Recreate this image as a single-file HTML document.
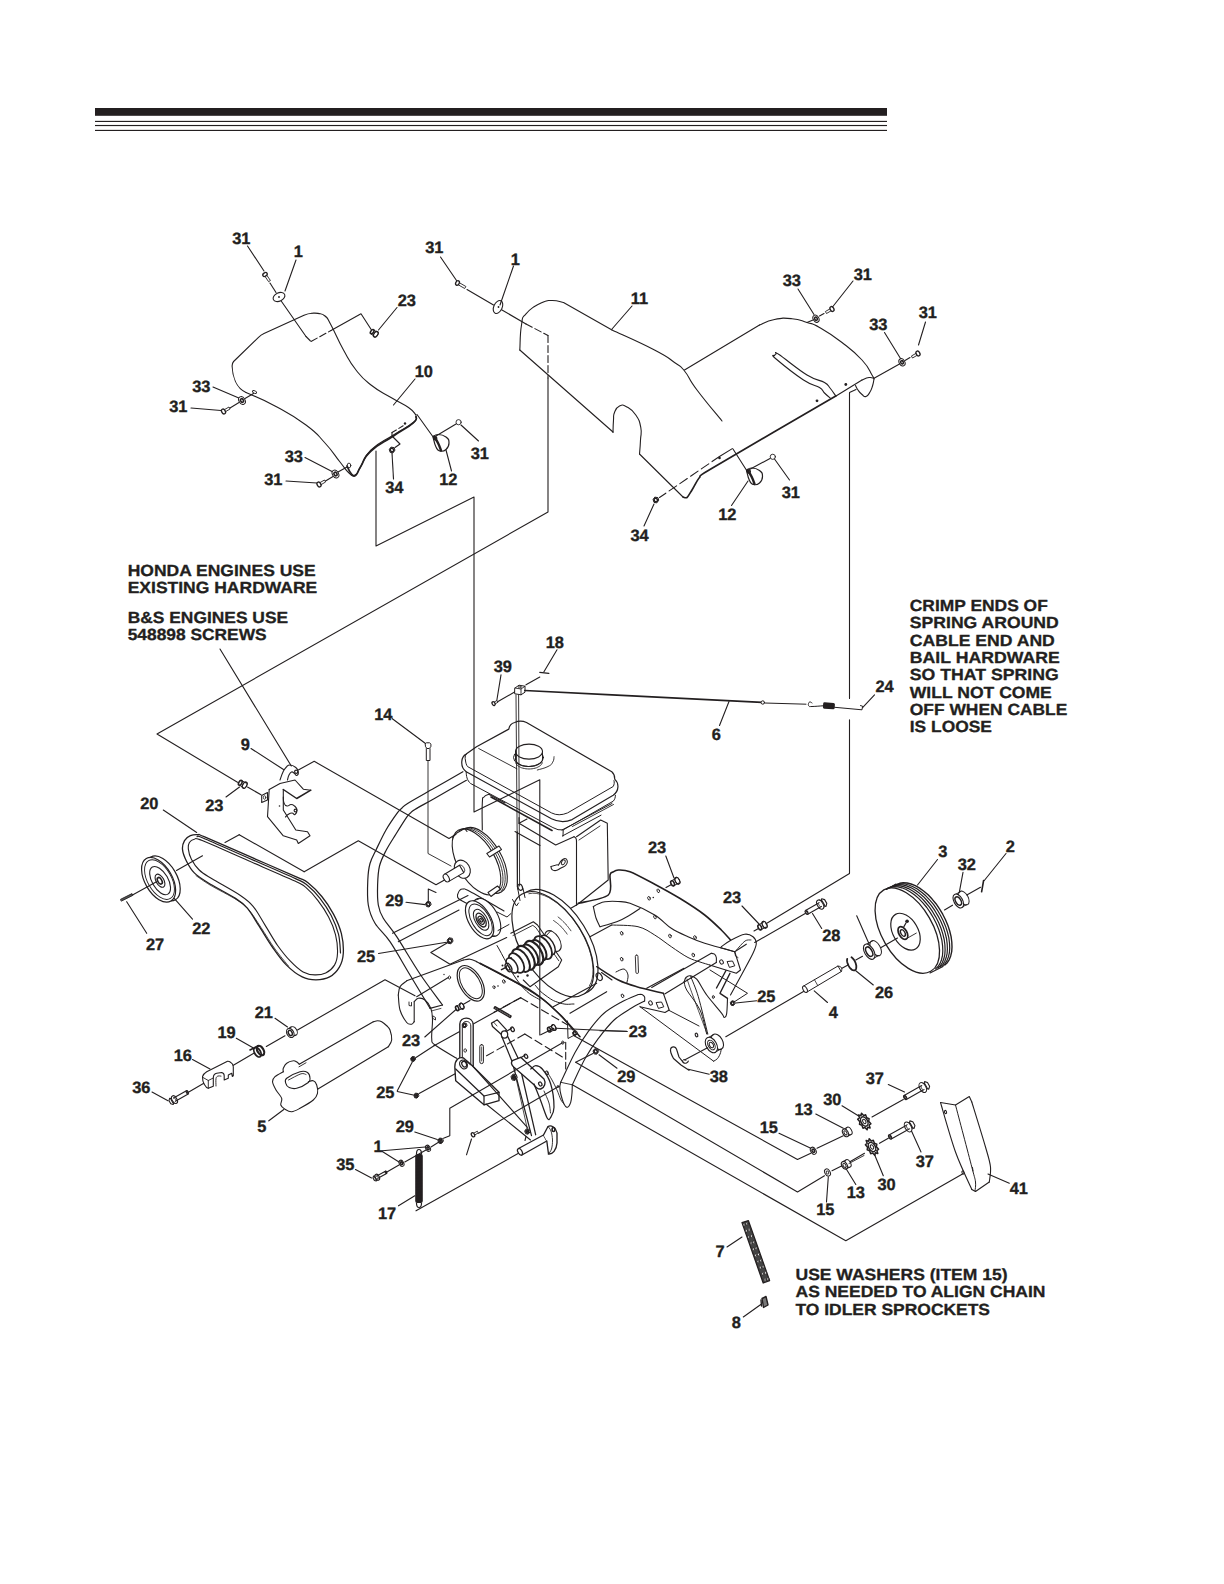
<!DOCTYPE html>
<html><head><meta charset="utf-8"><title>Parts diagram</title>
<style>html,body{margin:0;padding:0;background:#fff}svg{display:block}text{-webkit-font-smoothing:antialiased;text-rendering:geometricPrecision}</style></head>
<body><svg width="1224" height="1584" viewBox="0 0 1224 1584" style="font-family:'Liberation Sans',sans-serif;font-weight:bold" fill="none" stroke="#231f20" stroke-linecap="round" stroke-linejoin="round">
<rect x="0" y="0" width="1224" height="1584" fill="#fff" stroke="none"/>
<path d="M462.9 771.7 C458.1 774.5 443.1 783 434 788.3 C424.9 793.5 413.3 799.9 408 803.2 C402.7 806.5 403.7 806.5 402 808 C400.3 809.5 400.4 808.7 397.7 812.4 C395 816.1 389.6 823.7 386 830 C382.4 836.3 378.7 844.4 376 850 C373.3 855.6 371.4 858.5 370 863.5 C368.6 868.5 368.1 873.1 367.8 880 C367.5 886.9 367.1 897.8 368.3 905 C369.5 912.2 371.4 917.2 375 923.3 C378.6 929.4 384.2 933.1 390 941.7 C395.8 950.3 403.3 963.9 410 975 C416.7 986.1 426.7 1002.8 430 1008.3" stroke-width="1.2" fill="none"/>
<path d="M466.4 780.3 C461 783.4 442.6 793.8 434 798.7 C425.4 803.6 418.8 807.1 414.9 809.5 C411 811.9 411.8 811.8 410.5 813 C409.2 814.2 409.3 813.4 406.9 816.9 C404.5 820.4 399.4 828.5 396 834 C392.6 839.5 389.1 844.7 386.3 850 C383.6 855.3 380.9 860.2 379.5 866 C378.1 871.8 377.8 878.5 377.6 885 C377.4 891.5 377.4 899.5 378.3 905 C379.2 910.5 380.2 913 383.3 918.3 C386.4 923.6 390.6 927.4 396.7 936.7 C402.8 946 412.4 962.6 420 974 C427.6 985.4 438.8 999.8 442.5 1005" stroke-width="1.2" fill="none"/>
<path d="M430 1008.3 L442.5 1005" stroke-width="1.2"/>
<path d="M432 1010.8 L441 1008.4" stroke-width="0.8"/>
<path d="M466.2 754.1 L476.5 746.8 L508.8 729.1 C509.3 725.5 512 723.2 514.7 722.5 C518.5 720.8 522.5 720.8 526.5 722.5 L611.8 771.8 C613.8 773.5 614.8 776.2 614.7 779.1 C619 783 619.5 790.5 613.2 795.3 L572.1 819.6 Q561.8 824 551.5 818.8 L466.2 771.8 C462.5 769 461.5 765 461.8 761.5 C462 757.5 463.5 755.5 466.2 754.1 Z" stroke-width="1.2" fill="#fff"/>
<path d="M466.2 754.1 C465 756 464.9 758 465.4 760 C465.8 763 466.3 765 467.6 766.6 L551.5 812.9 Q558.8 816.6 567.6 812.9 L613.2 786.5 C614.3 784.5 614.5 782.5 614 780.6" stroke-width="1.0"/>
<path d="M466.2 771.8 C466.2 776 467 780.5 470.6 783.5 L552.9 827.6 Q558 830.6 563.2 829.9 L613.2 801.2 C614.8 799.5 615.4 797.5 615.4 795.3" stroke-width="1.0"/>
<path d="M563.2 829.9 L563 836" stroke-width="1.0"/>
<path d="M478.7 748.5 L516.9 768.8" stroke-width="0.9"/>
<path d="M562 830 L612 803.5" stroke-width="1.0"/>
<path d="M562.4 836 L601 815.2" stroke-width="1.0"/>
<path d="M572.3 826.5 L613.5 804.5" stroke-width="0.9"/>
<path d="M491 797 L552 830.5" stroke-width="1.6"/>
<ellipse cx="528.5" cy="757.5" rx="15" ry="9" transform="rotate(0 528.5 757.5)" stroke-width="1.0" fill="#fff"/>
<path d="M515.5 751.5 L515.5 759" stroke-width="1.0" fill="none"/>
<path d="M542.5 751.5 L542.5 759" stroke-width="1.0" fill="none"/>
<path d="M542.5 759 L542.4 760 L542 760.9 L541.5 761.9 L540.7 762.8 L539.7 763.6 L538.5 764.3 L537.2 765 L535.8 765.5 L534.2 765.9 L532.5 766.2 L530.8 766.4 L529 766.5 L527.2 766.4 L525.5 766.2 L523.8 765.9 L522.2 765.5 L520.8 765 L519.5 764.3 L518.3 763.6 L517.3 762.8 L516.5 761.9 L516 760.9 L515.6 760 L515.5 759" stroke-width="1.1" fill="none"/>
<path d="M542.3 762.8 L541.9 763.7 L541.4 764.5 L540.7 765.2 L539.8 766 L538.8 766.6 L537.7 767.2 L536.4 767.8 L535.1 768.2 L533.6 768.5 L532.1 768.8 L530.6 768.9 L529 769 L527.4 768.9 L525.9 768.8 L524.4 768.5 L522.9 768.2 L521.6 767.8 L520.3 767.2 L519.2 766.6 L518.2 766 L517.3 765.2 L516.6 764.5 L516.1 763.7 L515.7 762.8" stroke-width="0.9" fill="none"/>
<ellipse cx="529" cy="751.6" rx="13.5" ry="7.5" transform="rotate(0 529 751.6)" stroke-width="1.1" fill="#fff"/>
<path d="M554 756.7 C553.7 758.1 554.4 759.4 552.8 762 C551.2 764.6 552.1 764.4 548 766.5 C543.9 768.6 540.2 769.1 537.3 770" stroke-width="0.9" fill="none"/>
<path d="M482.3 830 C482.3 822.9 481.8 812.1 482.3 803.3 C482.8 794.5 482.3 799.4 484 797 C485.7 794.6 487.5 795 488.8 794.3" stroke-width="1.1" fill="none"/>
<path d="M488.8 794.3 L505 803" stroke-width="1.1"/>
<path d="M519 817.5 L519 823.3 L555.7 845 L574 836.7" stroke-width="1.1" fill="none"/>
<path d="M519 823.3 L527 819" stroke-width="1.1"/>
<path d="M517.3 831.7 L517.3 886.7" stroke-width="1.1" fill="none"/>
<path d="M515 831.5 L540 845.5" stroke-width="1.1"/>
<path d="M574 836.7 C574.5 837.2 575.3 837.2 576 838.5 C576.7 839.8 576.4 840.8 576.5 841.7" stroke-width="1.1" fill="none"/>
<path d="M576.5 841.7 L576.5 905" stroke-width="1.1"/>
<path d="M576.5 836.7 L600.7 820 L607.3 823.3 L608.2 880 L579 903.3 L576.5 905" stroke-width="1.1" fill="none"/>
<path d="M579 840 L600 826" stroke-width="0.9"/>
<path d="M576.5 905 L566 911" stroke-width="1.1"/>
<path d="M551 866.5 C551.3 867.3 550.7 868.4 552 869.5 C553.3 870.6 553.6 870.9 556 870.5 C558.4 870.1 558.3 869.5 561 868 C563.7 866.5 564.3 866.9 566 865 C567.7 863.1 567.6 862.7 567.3 861 C567 859.3 566.5 858.6 565 858.5 C563.5 858.4 563.2 858.8 561.5 860.5 C559.8 862.2 559.3 863.8 558.5 865" stroke-width="1.1" fill="none"/>
<path d="M551 866.5 L557 864.8 L558.5 865" stroke-width="1.0" fill="none"/>
<ellipse cx="563.3" cy="862.3" rx="1.6" ry="2.6" transform="rotate(30 563.3 862.3)" stroke-width="0.9" fill="none"/>
<ellipse cx="483" cy="860.4" rx="18.6" ry="36.5" transform="rotate(-30 483 860.4)" stroke-width="1.1" fill="#fff"/>
<ellipse cx="476.5" cy="861.9" rx="18.6" ry="36.5" transform="rotate(-30 476.5 861.9)" stroke-width="1.1" fill="#fff"/>
<path d="M459.1 830.7 L461.1 829.4 L463.4 828.7 L465.9 828.5 L468.6 828.8 L471.5 829.6 L474.5 830.9 L477.6 832.8 L480.7 835.1 L483.8 837.8 L486.8 840.9 L489.6 844.3 L492.3 848.1 L494.7 852 L496.9 856.1 L498.8 860.2 L500.4 864.4 L501.6 868.6 L502.5 872.6 L502.9 876.4 L503 880 L502.7 883.3 L502 886.3 L500.9 888.8 L499.5 890.9" stroke-width="0.9" fill="none"/>
<path d="M461.3 830.2 L463.3 828.9 L465.6 828.2 L468.1 828 L470.8 828.3 L473.7 829.1 L476.7 830.4 L479.8 832.3 L482.9 834.6 L486 837.3 L489 840.4 L491.8 843.8 L494.5 847.6 L496.9 851.5 L499.1 855.6 L501 859.7 L502.6 863.9 L503.8 868.1 L504.7 872.1 L505.1 875.9 L505.2 879.5 L504.9 882.8 L504.2 885.8 L503.1 888.3 L501.7 890.4" stroke-width="0.9" fill="none"/>
<path d="M452.5 838 L456 833.5 L464.5 828.5 L467 831.5" stroke-width="1.1" fill="none"/>
<path d="M486.8 853.5 L499 846 L501.5 849.5 L489.5 857 Z" stroke-width="1.1" fill="#fff"/>
<path d="M488 892.5 L497.5 886 L500.5 889 L491 896.5 Z" stroke-width="1.1" fill="#fff"/>
<ellipse cx="462.3" cy="869.2" rx="7.5" ry="9.5" transform="rotate(-30 462.3 869.2)" stroke-width="1.1" fill="#fff"/>
<path d="M444.5 874.2 L459.5 865.2 L463.8 872.6 L448.5 881.6" stroke-width="1.1" fill="#fff"/>
<ellipse cx="446.3" cy="878" rx="2.6" ry="4.2" transform="rotate(-30 446.3 878)" stroke-width="1.1" fill="#fff"/>
<path d="M459.5 865.4 L459.8 865.2 L460.2 865.2 L460.5 865.1 L460.9 865.2 L461.3 865.3 L461.7 865.5 L462.1 865.8 L462.5 866.1 L462.9 866.4 L463.2 866.8 L463.6 867.2 L463.9 867.7 L464.1 868.2 L464.3 868.7 L464.5 869.2 L464.6 869.7 L464.7 870.2 L464.7 870.7 L464.6 871.1 L464.5 871.5 L464.4 871.9 L464.2 872.2 L464 872.4 L463.7 872.6" stroke-width="1.0" fill="none"/>
<path d="M304.2 871.7 L358.3 840.8 L436 884.8 L444.5 880" stroke-width="1.1" fill="none"/>
<path d="M225 842.5 L239.2 834.7" stroke-width="1.1"/>
<path d="M239.2 834.7 L304.2 871.7" stroke-width="1.1"/>
<path d="M457.5 895 C457.9 894.1 458.4 891.7 459.5 890.5 C460.6 889.3 460.9 888.8 463 889 C465.1 889.2 461.8 887.1 470 891.5 C478.2 895.9 497.2 907.1 504 911" stroke-width="1.1" fill="none"/>
<path d="M457.5 895 C457.8 895.8 456.5 897 459 899 C461.5 901 462.8 901.1 470 905 C477.2 908.9 490 915.8 495 918.5" stroke-width="1.1" fill="none"/>
<path d="M392.5 933.3 L468 895.5" stroke-width="1.1"/>
<path d="M398.3 941.7 L459 910" stroke-width="1.1"/>
<ellipse cx="486.6" cy="917.3" rx="11" ry="21" transform="rotate(-30 486.6 917.3)" stroke-width="1.1" fill="#fff"/>
<path d="M472.1 901.3 L479.1 898.8" stroke-width="1.0" fill="none"/>
<path d="M487.1 938.3 L494.1 935.8" stroke-width="1.0" fill="none"/>
<ellipse cx="479.6" cy="919.8" rx="11" ry="21" transform="rotate(-30 479.6 919.8)" stroke-width="1.2" fill="#fff"/>
<ellipse cx="480.6" cy="919.8" rx="9" ry="17.5" transform="rotate(-30 480.6 919.8)" stroke-width="1.0" fill="none"/>
<ellipse cx="481.1" cy="919.8" rx="6" ry="11.5" transform="rotate(-30 481.1 919.8)" stroke-width="1.0" fill="none"/>
<ellipse cx="481.1" cy="920.1" rx="4" ry="7.6" transform="rotate(-30 481.1 920.1)" stroke-width="1.3" fill="none"/>
<ellipse cx="481.1" cy="920.3" rx="2.4" ry="4.4" transform="rotate(-30 481.1 920.3)" stroke-width="1.3" fill="none"/>
<ellipse cx="481.1" cy="920.3" rx="1.1" ry="2" transform="rotate(-30 481.1 920.3)" stroke-width="1.3" fill="none"/>
<path d="M497 912 L507 917 L511 913.5" stroke-width="1.0" fill="none"/>
<path d="M498 930.5 L509 924.5" stroke-width="1.0" fill="none"/>
<ellipse cx="557.1" cy="942" rx="31.2" ry="58.8" transform="rotate(-32 557.1 942)" stroke-width="1.2" fill="#fff"/>
<ellipse cx="552.8" cy="944.2" rx="31.2" ry="58.8" transform="rotate(-32 552.8 944.2)" stroke-width="1.2" fill="#fff"/>
<path d="M528.9 893.7 L532.4 893.2 L536.2 893.4 L540.2 894.2 L544.4 895.6 L548.7 897.6 L553.1 900.3 L557.5 903.4 L561.8 907.1 L566.1 911.2 L570.2 915.8 L574.1 920.7 L577.7 925.9 L581 931.3 L584 936.9 L586.6 942.5 L588.8 948.2 L590.6 953.8 L591.9 959.3 L592.7 964.6 L593 969.6 L592.8 974.3 L592.2 978.6 L591 982.5 L589.4 985.8" stroke-width="0.8" fill="none"/>
<path d="M553.6 920.6 L554.1 921 L554.7 921.3 L555.3 921.8 L555.9 922.2 L556.5 922.6 L557.1 923.1 L557.7 923.6 L558.3 924.1 L558.9 924.6 L559.5 925.1 L560 925.7 L560.6 926.2 L561.2 926.8 L561.8 927.4 L562.3 928 L562.9 928.7 L563.4 929.3 L564 929.9 L564.5 930.6 L565 931.3 L565.6 932 L566.1 932.6 L566.6 933.4 L567.1 934.1" stroke-width="0.9" fill="none"/>
<path d="M558.1 917 L558.7 917.5 L559.3 917.9 L559.9 918.4 L560.4 918.9 L561 919.4 L561.5 919.9 L562.1 920.4 L562.7 921 L563.2 921.5 L563.8 922.1 L564.3 922.6 L564.9 923.2 L565.4 923.8 L565.9 924.4 L566.4 925 L567 925.6 L567.5 926.2 L568 926.9 L568.5 927.5 L569 928.2 L569.5 928.8 L570 929.5 L570.5 930.2 L570.9 930.8" stroke-width="0.9" fill="none"/>
<path d="M517.8 889 L520 900.5" stroke-width="1.0" fill="none"/>
<path d="M523 888.5 L525 897.5" stroke-width="1.0" fill="none"/>
<ellipse cx="520.2" cy="887.3" rx="2.2" ry="3.2" transform="rotate(-20 520.2 887.3)" stroke-width="1.2" fill="none"/>
<path d="M512.5 899.5 L516.5 906 L518.5 903" stroke-width="1.0" fill="none"/>
<path d="M510.8 933.3 L533.3 921.7 L537.5 925 L561.7 960 L558.3 966.7 L530 986.7 L523.3 980" stroke-width="1.1" fill="none"/>
<path d="M513 935.5 L532.8 925.3 L536 927.8 L558.8 960.8" stroke-width="0.9" fill="none"/>
<ellipse cx="553" cy="941" rx="6.5" ry="11.5" transform="rotate(-32 553 941)" stroke-width="1.0" fill="#fff"/>
<path d="M545 937 L551 930.5" stroke-width="1.0" fill="none"/>
<ellipse cx="547.5" cy="945.2" rx="6" ry="11" transform="rotate(-32 547.5 945.2)" stroke-width="1.4" fill="#fff"/>
<ellipse cx="543" cy="947.7" rx="7" ry="12.8" transform="rotate(-32 543 947.7)" stroke-width="1.8" fill="#fff"/>
<ellipse cx="538.5" cy="950.3" rx="6.2" ry="11.4" transform="rotate(-32 538.5 950.3)" stroke-width="2.0" fill="#fff"/>
<ellipse cx="534" cy="952.9" rx="7.2" ry="13.3" transform="rotate(-32 534 952.9)" stroke-width="2.2" fill="#fff"/>
<ellipse cx="530" cy="955.2" rx="6.4" ry="11.8" transform="rotate(-32 530 955.2)" stroke-width="2.0" fill="#fff"/>
<ellipse cx="525.5" cy="957.8" rx="7.2" ry="13.3" transform="rotate(-32 525.5 957.8)" stroke-width="2.2" fill="#fff"/>
<ellipse cx="521" cy="960.4" rx="6.9" ry="12.8" transform="rotate(-32 521 960.4)" stroke-width="2.0" fill="#fff"/>
<ellipse cx="516.5" cy="963" rx="6" ry="11" transform="rotate(-32 516.5 963)" stroke-width="1.8" fill="#fff"/>
<ellipse cx="512" cy="965.5" rx="4.6" ry="8.4" transform="rotate(-32 512 965.5)" stroke-width="1.5" fill="#fff"/>
<ellipse cx="508.5" cy="967.6" rx="2.6" ry="4.6" transform="rotate(-32 508.5 967.6)" stroke-width="1.4" fill="#fff"/>
<ellipse cx="508" cy="967.9" rx="1.4" ry="2.4" transform="rotate(-32 508 967.9)" stroke-width="1.3" fill="none"/>
<path d="M501.5 969.6 L505.5 967.6" stroke-width="1.6" fill="none"/>
<circle cx="502.5" cy="965.5" r="1" fill="#231f20" stroke="none"/>
<circle cx="527.5" cy="975.5" r="1.2" fill="#231f20" stroke="none"/>
<circle cx="518" cy="976.5" r="1" fill="#231f20" stroke="none"/>
<circle cx="511" cy="958" r="1" fill="#231f20" stroke="none"/>
<path d="M480 963.3 C488 967.5 495.3 971 510 979 C524.7 987 523 985 535 993.3 C547 1001.6 546.5 1002.4 555 1010 C563.5 1017.6 560 1014.6 566.7 1021.7 C573.4 1028.8 576.5 1032.7 580 1036.7" stroke-width="1.6" fill="none"/>
<path d="M497 945.5 C502.4 954.5 510 971.3 520 984 C530 996.7 535.3 996.3 540 1000" stroke-width="1.0" fill="none"/>
<path d="M535 985 C537.7 987.7 538.3 990.2 545 995 C551.7 999.8 552.3 1000.6 560 1003 C567.7 1005.4 570.3 1003.7 574 1004" stroke-width="1.0" fill="none"/>
<path d="M578.3 903.3 C582.8 902.1 603.5 899.2 608.3 895 C613.1 890.8 609.3 878.5 610 875 C610.7 871.5 611.8 872.8 613 872 C614.2 871.2 615.8 870 618.3 870 C620.8 870 624.5 869.6 630 871.7 C635.5 873.8 647.2 880.2 654.7 884.2 C662.2 888.2 672.2 893.7 679.7 898.3 C687.2 902.9 698.5 910.2 704.7 915 C710.9 919.8 717.4 926.2 721.3 930 C725.2 933.8 729.1 938.5 730.5 940" stroke-width="1.6" fill="none"/>
<path d="M593.3 906.7 C594.1 906.2 596 904.8 598 904 C600 903.2 601.7 902.1 605 901.7 C608.3 901.3 613.8 901.2 618 901.5 C622.2 901.8 623.9 901 630 903.3 C636.1 905.5 647.8 910.8 654.7 915 C661.6 919.2 665.8 924.7 671.3 928.3 C676.8 931.9 682.4 934.2 688 936.7 C693.6 939.2 699.4 941.5 704.7 943.3 C710 945.1 714.7 946.1 719.7 947.5 C724.7 948.9 732.2 951 734.7 951.7" stroke-width="1.1" fill="none"/>
<path d="M593.3 906.7 C593.8 908.6 594.9 914.7 596 918 C597.1 921.3 599.3 925.2 600 926.7" stroke-width="1.1" fill="none"/>
<path d="M600 926.7 C602.8 925.9 611.7 923.7 616.7 921.7 C621.7 919.8 626.1 917.2 630 915 C633.9 912.8 638.3 909.6 640 908.5" stroke-width="1.1" fill="none"/>
<path d="M590 936.7 L611.7 925" stroke-width="1.1"/>
<path d="M611.7 925 C616.1 925.3 630.8 925 638 926.7 C645.2 928.4 649.2 931.7 654.7 935 C660.2 938.3 665.8 943 671.3 946.7 C676.8 950.5 683.2 955 688 957.5 C692.8 960 696.4 960.8 700 962 C703.6 963.2 708.1 964.5 709.7 965" stroke-width="1.0" fill="none"/>
<ellipse cx="658.3" cy="890.8" rx="1.2" ry="1.9" transform="rotate(-20 658.3 890.8)" stroke-width="0.9" fill="none"/>
<ellipse cx="649" cy="898.3" rx="1.2" ry="1.9" transform="rotate(-20 649 898.3)" stroke-width="0.9" fill="none"/>
<ellipse cx="621.7" cy="933.3" rx="1.2" ry="1.9" transform="rotate(-20 621.7 933.3)" stroke-width="0.9" fill="none"/>
<ellipse cx="670" cy="936" rx="1.2" ry="1.9" transform="rotate(-20 670 936)" stroke-width="0.9" fill="none"/>
<ellipse cx="621.7" cy="959.2" rx="1.2" ry="1.9" transform="rotate(-20 621.7 959.2)" stroke-width="0.9" fill="none"/>
<ellipse cx="622.5" cy="995.8" rx="1.2" ry="1.9" transform="rotate(-20 622.5 995.8)" stroke-width="0.9" fill="none"/>
<ellipse cx="693.3" cy="955" rx="1.2" ry="1.9" transform="rotate(-20 693.3 955)" stroke-width="0.9" fill="none"/>
<ellipse cx="695" cy="937.5" rx="1.2" ry="1.9" transform="rotate(-20 695 937.5)" stroke-width="0.9" fill="none"/>
<ellipse cx="655" cy="917" rx="1.2" ry="1.9" transform="rotate(-20 655 917)" stroke-width="0.9" fill="none"/>
<circle cx="653.3" cy="897.5" r="0.8" fill="#231f20" stroke="none"/>
<rect x="635.6" y="955" width="2.6" height="18.5" rx="1.3" stroke-width="0.9" transform="rotate(-2 637 964)"/>
<path d="M719.7 947.5 L734.7 951.7 L746.3 944.2" stroke-width="1.1" fill="none"/>
<path d="M734.7 951.7 L740.5 970 L736.3 973.3 L709.7 965" stroke-width="1.1" fill="none"/>
<path d="M734.7 951.7 L735.5 956 L738 957.5" stroke-width="0.9" fill="none"/>
<ellipse cx="721.5" cy="962" rx="1.7" ry="2.2" transform="rotate(-30 721.5 962)" stroke-width="1.0" fill="none"/>
<path d="M727.5 961.5 L732.5 961 L734.8 965.8 L729.8 967.3 Z" stroke-width="1.0" fill="none"/>
<path d="M651.7 987.5 L711.3 953.3" stroke-width="1.1" fill="none"/>
<path d="M664.7 994 L716.3 962.5" stroke-width="1.1" fill="none"/>
<path d="M711.3 953.3 C711.8 953.4 713.7 953.5 714.5 954.2 C715.3 954.9 716 956.1 716.3 957.5 C716.6 958.9 716.3 961.7 716.3 962.5" stroke-width="1.1" fill="none"/>
<path d="M721.3 946.7 C723 945.6 727.4 942.1 731.3 940 C735.2 937.9 741.1 934.8 744.7 934.2 C748.3 933.7 751.1 935.2 753 936.7 C754.9 938.2 756.3 940.5 756.3 943.3 C756.3 946.1 755.4 948.2 753 953.3 C750.6 958.4 745.8 967 742 974 C738.2 981 732.4 991.5 730.5 995" stroke-width="1.1" fill="none"/>
<path d="M736.5 950 C737.9 948.5 742.6 942.7 745 941 C747.4 939.3 750 940.2 751 940" stroke-width="0.9" fill="none"/>
<path d="M726 970.5 L716.5 988" stroke-width="1.4" fill="none"/>
<path d="M596.7 966.7 C600.3 968.9 611.6 976.7 618.3 980 C625 983.3 629.2 984.5 636.7 986.7 C644.2 988.9 658.9 992.2 663.3 993.3" stroke-width="1.5" fill="none"/>
<path d="M663.3 993.3 L669.2 1010 L665 1012.5 L640 1006.7" stroke-width="1.1" fill="none"/>
<path d="M684 968.3 L646.7 988.3" stroke-width="1.1"/>
<path d="M626.7 983.3 C626.9 981.9 628.5 977.4 628 975 C627.5 972.6 626 969.5 624 969 C622 968.5 617.3 971.5 616 972" stroke-width="1.0" fill="none"/>
<ellipse cx="650.5" cy="1003" rx="1.7" ry="2.2" transform="rotate(-30 650.5 1003)" stroke-width="1.0" fill="none"/>
<path d="M656.5 1002.5 L661.5 1002 L663.8 1006.8 L658.8 1008.3 Z" stroke-width="1.0" fill="none"/>
<path d="M638.3 994.5 C638.9 994.5 641 994.2 642 994.6 C643 995 644.2 995.9 644.6 997 C645 998.1 644.6 1000.3 644.6 1001" stroke-width="1.1" fill="none"/>
<path d="M553.3 1006.7 L596.7 983.3" stroke-width="1.1"/>
<path d="M570 1013.3 L606.7 991.7" stroke-width="1.1"/>
<ellipse cx="599.2" cy="976.7" rx="2.6" ry="4" transform="rotate(-30 599.2 976.7)" stroke-width="1.2" fill="none"/>
<path d="M601.5 972.5 L612 980" stroke-width="1.1"/>
<path d="M668.3 1010 L699 1026" stroke-width="1.0" fill="none"/>
<path d="M640 1006.7 L713.6 1061.2" stroke-width="1.0" fill="none"/>
<path d="M713.6 1061.2 C714.2 1060.8 716.3 1060 717.5 1058.6 C718.7 1057.1 720 1054.6 720.6 1052.5 C721.2 1050.4 721.3 1047.2 721.4 1046.1" stroke-width="1.0" fill="none"/>
<ellipse cx="696.5" cy="1035" rx="1.2" ry="1.9" transform="rotate(-20 696.5 1035)" stroke-width="1.2" fill="none"/>
<ellipse cx="717.4" cy="1041.8" rx="5.2" ry="8.4" transform="rotate(-30 717.4 1041.8)" stroke-width="1.1" fill="#fff"/>
<path d="M707.8 1037.8 L713.8 1034.6" stroke-width="1.0" fill="none"/>
<path d="M715 1052.2 L721 1049" stroke-width="1.0" fill="none"/>
<ellipse cx="711.4" cy="1045" rx="5.2" ry="8.4" transform="rotate(-30 711.4 1045)" stroke-width="1.1" fill="#fff"/>
<ellipse cx="711.4" cy="1045" rx="3.2" ry="5.2" transform="rotate(-30 711.4 1045)" stroke-width="1.0" fill="none"/>
<ellipse cx="711.4" cy="1045" rx="1.8" ry="3" transform="rotate(-30 711.4 1045)" stroke-width="1.0" fill="none"/>
<path d="M684.2 981.7 C684.5 981 685 978.5 686 977.5 C687 976.5 688.2 975.5 690 975.8 C691.8 976.1 693.9 976 696.7 979.2 C699.5 982.4 702.5 989.3 706.7 995 C710.9 1000.7 718.8 1009.5 721.7 1013.3 C724.6 1017 723.4 1017.5 724.2 1017.5 C725 1017.5 726.2 1016.5 726.7 1013.3 C727.2 1010.1 727.4 1000.8 727.5 998.3" stroke-width="1.1" fill="none"/>
<path d="M727.5 998.3 L720 993.3 L730 973.3" stroke-width="1.4" fill="none"/>
<path d="M684.2 981.7 C684.6 983.1 684.1 985.3 686.7 990 C689.3 994.7 696.7 1002.7 700 1010 C703.3 1017.3 705.6 1030 706.7 1034" stroke-width="1.0" fill="none"/>
<path d="M690.8 976.7 C692 980 695.5 987.2 698.3 996.7 C701.1 1006.2 706.2 1027.8 707.8 1034" stroke-width="1.0" fill="none"/>
<path d="M687 979 C688 981.8 689.6 986.8 693 996 C696.4 1005.2 704.8 1027.7 707.2 1034" stroke-width="0.8" fill="none"/>
<ellipse cx="713.3" cy="997" rx="1" ry="1.5" transform="rotate(0 713.3 997)" stroke-width="0.9" fill="none"/>
<path d="M734.9 1003.7 L733.4 1005.6 L731.1 1005.2 L730.3 1002.7 L731.8 1000.8 L734.1 1001.2 Z" stroke-width="1.0" fill="#fff"/>
<ellipse cx="732.6" cy="1003.2" rx="1.3" ry="1.6" transform="rotate(-30 732.6 1003.2)" stroke-width="1.5" fill="none"/>
<path d="M756.7 1000.8 L735.8 1003" stroke-width="1.1"/>
<path d="M710 970 L747.5 993.3 L733.3 1002.5" stroke-width="1.0" fill="none"/>
<path d="M689 1070.3 L681 1065 L673.5 1058.5 C671.5 1055 670 1051.5 670.6 1049.2 C671.2 1046 675.5 1046 676.6 1049.4 L679 1057 L683 1062.2 C685.5 1064.5 688 1062.5 688.3 1061.2" stroke-width="1.2"/>
<path d="M683 1062.2 C681.5 1059.5 684.5 1058.5 686 1060.5" stroke-width="1.0"/>
<path d="M684.5 1060 L707.5 1047.8" stroke-width="1.1"/>
<path d="M709.2 1074.2 L688.3 1069.2" stroke-width="1.1"/>
<path d="M725.8 1036.7 L803.5 991.5" stroke-width="1.1"/>
<path d="M626.7 1031.3 L600 1030.8" stroke-width="1.1"/>
<path d="M617 1068.2 L599 1054.8" stroke-width="1.1"/>
<path d="M598.4 1052 L596.6 1054.3 L594 1053.8 L593 1051 L594.8 1048.7 L597.4 1049.2 Z" stroke-width="1.0" fill="#fff"/>
<ellipse cx="595.7" cy="1051.5" rx="1.5" ry="1.8" transform="rotate(-30 595.7 1051.5)" stroke-width="1.5" fill="none"/>
<path d="M593 1053.5 L575.7 1062.3" stroke-width="1.1"/>
<ellipse cx="553.8" cy="1027.5" rx="1.9" ry="3.2" transform="rotate(-25 553.8 1027.5)" stroke-width="1.0" fill="#fff"/>
<path d="M550.2 1031.8 L554.8 1029.7" stroke-width="1.0" fill="none"/>
<path d="M548.2 1027.5 L552.8 1025.4" stroke-width="1.0" fill="none"/>
<ellipse cx="549.2" cy="1029.7" rx="1.4" ry="2.4" transform="rotate(-25 549.2 1029.7)" stroke-width="1.6" fill="#fff"/>
<ellipse cx="553.8" cy="1027.5" rx="1.9" ry="3.2" transform="rotate(-25 553.8 1027.5)" stroke-width="1.0" fill="none"/>
<path d="M555.7 1028.2 L627.3 1031.5" stroke-width="1.1"/>
<path d="M577.1 1033.7 L575.6 1035.6 L573.3 1035.2 L572.5 1032.7 L574 1030.8 L576.3 1031.2 Z" stroke-width="1.0" fill="#fff"/>
<ellipse cx="574.8" cy="1033.2" rx="1.3" ry="1.6" transform="rotate(-30 574.8 1033.2)" stroke-width="1.5" fill="none"/>
<path d="M540.7 1034.8 L554 1028.2" stroke-width="1.1" fill="none"/>
<path d="M567.5 1021 L568 1038.5 L575.5 1034.5" stroke-width="1.0" fill="none"/>
<path d="M574 1035.7 L797.5 1159.5 L810.8 1153.3" stroke-width="1.1" fill="none"/>
<path d="M575.7 1062.3 L797.5 1192 L824.5 1175.8" stroke-width="1.1" fill="none"/>
<path d="M572.3 1084.8 L845.8 1240.8 L962.5 1174" stroke-width="1.1" fill="none"/>
<path d="M558.5 1086.5 L478.5 1133.3" stroke-width="1.1"/>
<path d="M560.7 1082.3 C563.1 1077.4 570.4 1061.1 574.9 1052.7 C579.4 1044.3 583.2 1038.3 588 1031.8 C592.8 1025.3 598 1018.5 603.7 1013.5 C609.4 1008.5 616.2 1005 622 1001.8 C627.8 998.6 635.6 995.7 638.3 994.5" stroke-width="1.1" fill="none"/>
<path d="M572.3 1084.8 C574.5 1080.3 581 1065.7 585.4 1058 C589.8 1050.3 593.6 1044.7 598.4 1038.4 C603.2 1032.1 608.6 1025 614.1 1020 C619.6 1015 626 1011.5 631.1 1008.3 C636.2 1005.1 642.4 1002.2 644.6 1001" stroke-width="1.1" fill="none"/>
<path d="M560.7 1082.3 C560.6 1083.1 559.8 1085.2 559.8 1087.3 C559.8 1089.4 560.3 1092.2 561 1095 C561.7 1097.8 563 1102 564 1104 C565 1106 566.2 1107.6 567.3 1107.3 C568.4 1107 569.9 1104.7 570.7 1102.3 C571.5 1099.9 571.7 1095.9 572 1093 C572.3 1090.1 572.2 1086.2 572.3 1084.8" stroke-width="1.1" fill="none"/>
<path d="M560.7 1082.3 L572.3 1084.8" stroke-width="0.9"/>
<path d="M547.3 1072.3 C548.1 1073.6 550.4 1077 552 1080 C553.6 1083 555.5 1086.7 557 1090 C558.5 1093.3 559.8 1097.7 561 1100 C562.2 1102.3 563.5 1103.3 564 1104" stroke-width="0.9" fill="none"/>
<ellipse cx="547" cy="1072.8" rx="1.3" ry="1.9" transform="rotate(-20 547 1072.8)" stroke-width="1.0" fill="none"/>
<ellipse cx="558" cy="1086.5" rx="1" ry="1" transform="rotate(0 558 1086.5)" stroke-width="0.9" fill="none"/>
<path d="M520.7 997.7 L494 1012.3" stroke-width="1.1" stroke-dasharray="8 4"/>
<path d="M520.7 997.7 L567.3 1024.8" stroke-width="1.1" stroke-dasharray="8 4"/>
<path d="M524.8 1034 L484 1057.3" stroke-width="1.1" stroke-dasharray="8 4"/>
<path d="M524.8 1034 L565.7 1059" stroke-width="1.1" stroke-dasharray="8 4"/>
<path d="M565.7 1042.3 L565.7 1069" stroke-width="1.1" stroke-dasharray="7 3"/>
<path d="M434 1045.7 L520.7 997.7" stroke-width="1.1"/>
<path d="M416 1057.5 L434 1045.7" stroke-width="1.1"/>
<path d="M419.1 1093.5 L464.7 1068.5" stroke-width="1.1"/>
<ellipse cx="562.8" cy="1042.6" rx="1.2" ry="1.6" transform="rotate(0 562.8 1042.6)" stroke-width="0.9" fill="none"/>
<path d="M459.8 1066 L459.8 1024 C459.8 1016 473.2 1016 473.2 1025 L473.2 1066" stroke-width="1.35" fill="#fff"/>
<path d="M462.3 1064 L462.3 1025.5 C462.3 1020 470.8 1020 470.8 1026 L470.8 1064" stroke-width="1.0"/>
<path d="M466.8 1025.8 L465.3 1027.7 L463 1027.3 L462.2 1024.8 L463.7 1022.9 L466 1023.3 Z" stroke-width="1.0" fill="#fff"/>
<ellipse cx="464.5" cy="1025.3" rx="1.3" ry="1.6" transform="rotate(-30 464.5 1025.3)" stroke-width="1.5" fill="none"/>
<ellipse cx="465.2" cy="1050.5" rx="1.3" ry="1.7" transform="rotate(0 465.2 1050.5)" stroke-width="0.9" fill="none"/>
<rect x="479.8" y="1044.6" width="3.6" height="19" rx="1.8" stroke-width="1.0"/>
<path d="M481.6 1047 L481.6 1061" stroke-width="0.7"/>
<path d="M494 1008.2 L510.2 1017.6 L511.2 1016 L495 1006.6 Z" stroke-width="1.25" fill="none"/>
<path d="M494.6 1007.4 L510.8 1016.8" stroke-width="0.8"/>
<path d="M454.8 1067 C454.8 1060 459 1056.5 463.5 1058 L472.3 1065.7 L499 1092.3 L499 1100.7 L484 1104.8 L455.7 1080.7 Z" stroke-width="1.35" fill="#fff"/>
<path d="M455.7 1069 L484 1096 L499 1092.3" stroke-width="1.25" fill="none"/>
<path d="M484 1096 L484 1104.8" stroke-width="1.25"/>
<ellipse cx="463.5" cy="1064.5" rx="3.6" ry="4.6" transform="rotate(-30 463.5 1064.5)" stroke-width="1.25" fill="none"/>
<ellipse cx="464.2" cy="1064.2" rx="2.2" ry="3" transform="rotate(-30 464.2 1064.2)" stroke-width="1.25" fill="none"/>
<path d="M466.5 1061 L470.5 1064.5" stroke-width="1.25" fill="none"/>
<path d="M472.3 1065.7 L527.3 1127.3" stroke-width="1.1"/>
<path d="M486 1104 L530.5 1140" stroke-width="1.1"/>
<path d="M491.5 1023.2 L497.3 1019.8 L506.5 1029.8 L502 1035 L492.5 1026.5 L491.5 1023.2" stroke-width="1.25" fill="#fff"/>
<path d="M493.5 1022 L497 1026" stroke-width="0.8"/>
<ellipse cx="504.5" cy="1034.5" rx="3.2" ry="3.6" transform="rotate(0 504.5 1034.5)" stroke-width="1.25" fill="#fff"/>
<path d="M507 1031 L511.5 1028.3" stroke-width="1.25" fill="none"/>
<ellipse cx="512.5" cy="1029.3" rx="1.6" ry="2.4" transform="rotate(-30 512.5 1029.3)" stroke-width="1.25" fill="none"/>
<path d="M502 1037 L512.3 1062 L531.5 1135.7" stroke-width="1.25" fill="none"/>
<path d="M507.5 1036 L518 1058 L535.7 1134.8" stroke-width="1.25" fill="none"/>
<path d="M516 1078 L527.8 1131" stroke-width="0.8" fill="none"/>
<path d="M512.3 1060.7 L520.7 1057.3 L544 1079 C546 1082.5 545 1087.5 540.7 1089 C537 1089.5 535.5 1087 534 1084.8 L514 1067.3 C511.5 1065 511 1062.3 512.3 1060.7 Z" stroke-width="1.35" fill="#fff"/>
<ellipse cx="540.3" cy="1084" rx="1.5" ry="2.1" transform="rotate(-30 540.3 1084)" stroke-width="1.25" fill="none"/>
<path d="M521 1057.5 L525 1055.2" stroke-width="1.25" fill="none"/>
<ellipse cx="526" cy="1056.2" rx="1.5" ry="2.2" transform="rotate(-30 526 1056.2)" stroke-width="1.25" fill="none"/>
<path d="M517 1077.9 L515 1080.5 L512 1079.9 L511 1076.7 L513 1074.1 L516 1074.7 Z" stroke-width="1.0" fill="#fff"/>
<ellipse cx="514" cy="1077.3" rx="1.7" ry="2" transform="rotate(-30 514 1077.3)" stroke-width="1.5" fill="none"/>
<circle cx="514" cy="1077.3" r="1.6" fill="#231f20" stroke="none"/>
<path d="M530.7 1069 C531.5 1068.5 533.8 1065.7 535.7 1065.7 C537.6 1065.7 539.8 1066 542.3 1069 C544.8 1072 548.8 1077.6 550.7 1084 C552.7 1090.4 554 1101.8 554 1107.3 C554 1112.8 551.8 1115.5 550.7 1117.3 C549.6 1119.1 549 1121 547.3 1118.2 C545.6 1115.4 542.9 1106.4 540.7 1100.7 C538.5 1095 535.1 1086.8 534 1084" stroke-width="1.25" fill="none"/>
<path d="M544 1091 C544.8 1093 547.9 1099.3 549 1103 C550.1 1106.7 550.2 1111.3 550.5 1113" stroke-width="0.9" fill="none"/>
<path d="M518.5 1148.5 L543.5 1135 L546.8 1141 L521.5 1155.2" stroke-width="1.25" fill="#fff"/>
<ellipse cx="520" cy="1151.8" rx="2" ry="3.6" transform="rotate(-30 520 1151.8)" stroke-width="1.25" fill="#fff"/>
<path d="M543.5 1135 L548 1126.5 C551 1124.5 556 1127.5 557 1133 L557 1143 C556.5 1150 552.5 1154.5 548.5 1154 L546.8 1141" stroke-width="1.35" fill="#fff"/>
<path d="M548 1126.5 C548.5 1127.2 550.2 1128.8 551 1131 C551.8 1133.2 552.4 1137 552.5 1140 C552.6 1143 552.2 1146.7 551.5 1149 C550.8 1151.3 549 1153.2 548.5 1154" stroke-width="0.9" fill="none"/>
<ellipse cx="553.5" cy="1129.5" rx="1.4" ry="2" transform="rotate(0 553.5 1129.5)" stroke-width="1.6" fill="none"/>
<path d="M529.9 1132 L528.2 1134.2 L525.6 1133.7 L524.7 1131 L526.4 1128.8 L529 1129.3 Z" stroke-width="1.0" fill="#fff"/>
<ellipse cx="527.3" cy="1131.5" rx="1.4" ry="1.7" transform="rotate(-30 527.3 1131.5)" stroke-width="1.5" fill="none"/>
<circle cx="527.3" cy="1131.5" r="1.3" fill="#231f20" stroke="none"/>
<path d="M526 1136.5 L525 1140.5" stroke-width="1.2" fill="none"/>
<path d="M473.5 1135.7 L478.3 1132.9 L477.3 1131.2 L472.5 1133.9" stroke-width="0.9" fill="#fff"/>
<ellipse cx="473" cy="1134.8" rx="1.5" ry="2.2" transform="rotate(-30 473 1134.8)" stroke-width="1.3" fill="#fff"/>
<path d="M471.5 1139 L466.5 1154.8" stroke-width="1.1"/>
<path d="M416 1210.8 L518.5 1153.3" stroke-width="1.1"/>
<path d="M443.5 1138.3 L449.8 1135.8 L449.8 1108.3 L562.5 1042.8" stroke-width="1.1" fill="none"/>
<path d="M398.3 995 C398.6 993.6 398.6 989.1 400 986.7 C401.4 984.3 405.6 981.8 406.7 980.8" stroke-width="1.1" fill="none"/>
<path d="M406.7 980.8 L463.3 960" stroke-width="1.1"/>
<path d="M463.3 960 C464.4 959.9 467.8 958.9 470 959.2 C472.2 959.5 475.6 961.3 476.7 961.7" stroke-width="1.1" fill="none"/>
<path d="M476.7 961.7 C483.9 965.6 508.6 978.5 520 985 C531.4 991.5 538 995.7 545 1001 C552 1006.3 557.3 1012.2 562 1017 C566.7 1021.8 571.2 1027.8 573 1030" stroke-width="1.1" fill="none"/>
<path d="M398.3 995 C398.6 997.5 398.6 1005.4 400 1010 C401.4 1014.6 404.8 1020.1 406.7 1022.5 C408.6 1024.9 410.4 1024.3 411.7 1024.2 C412.9 1024.1 413.8 1022.1 414.2 1021.7" stroke-width="1.1" fill="none"/>
<path d="M414.2 1021.7 L414.2 1001.7" stroke-width="1.1"/>
<path d="M414.2 1001.7 C414.9 1001.1 416.5 998.6 418.3 998.3 C420.1 998 422.9 998.3 425 1000 C427.1 1001.7 429.6 1005 430.8 1008.3 C432.1 1011.6 432.4 1015 432.5 1020 C432.6 1025 431.3 1034.1 431.7 1038.3 C432.1 1042.5 430.8 1041.7 435 1045 C439.2 1048.3 453.1 1056.1 456.7 1058.3" stroke-width="1.1" fill="none"/>
<path d="M409 1002 L409 1005.5 L411.5 1006 L411.5 1002.5" stroke-width="0.9" fill="none"/>
<path d="M433 1016 L435.5 1017.5 L435.5 1020 L433 1018.5 Z" stroke-width="0.9" fill="none"/>
<ellipse cx="470.8" cy="983.3" rx="11" ry="19.5" transform="rotate(-30 470.8 983.3)" stroke-width="1.2" fill="none"/>
<ellipse cx="470.8" cy="983.3" rx="9" ry="17" transform="rotate(-30 470.8 983.3)" stroke-width="1.0" fill="none"/>
<ellipse cx="449.5" cy="977.5" rx="1.1" ry="1.6" transform="rotate(0 449.5 977.5)" stroke-width="0.9" fill="none"/>
<circle cx="444" cy="974.5" r="0.7" fill="#231f20" stroke="none"/>
<ellipse cx="503.8" cy="981.5" rx="1.2" ry="1.8" transform="rotate(-20 503.8 981.5)" stroke-width="0.9" fill="none"/>
<ellipse cx="494" cy="987.2" rx="1" ry="1.5" transform="rotate(-20 494 987.2)" stroke-width="0.9" fill="none"/>
<circle cx="498" cy="986" r="0.8" fill="#231f20" stroke="none"/>
<path d="M416.7 996.7 L448.3 977.5" stroke-width="1.1"/>
<path d="M452.8 941.4 L451 943.8 L448.1 943.3 L447.2 940.2 L449 937.8 L451.9 938.3 Z" stroke-width="1.0" fill="#fff"/>
<ellipse cx="450" cy="940.8" rx="1.6" ry="1.9" transform="rotate(-30 450 940.8)" stroke-width="1.5" fill="none"/>
<path d="M378.5 953.5 L446.5 942.3" stroke-width="1.1"/>
<path d="M449.2 941.7 L430.8 952.5 L450 964.2 L506.7 937.5" stroke-width="1.1" fill="none"/>
<path d="M430.9 904.7 L429.1 907 L426.5 906.5 L425.5 903.7 L427.3 901.4 L429.9 901.9 Z" stroke-width="1.0" fill="#fff"/>
<ellipse cx="428.2" cy="904.2" rx="1.5" ry="1.8" transform="rotate(-30 428.2 904.2)" stroke-width="1.5" fill="none"/>
<path d="M406 902.3 L425 904.6" stroke-width="1.1"/>
<path d="M428.3 901 L428.3 889 L436 892.5" stroke-width="1.1" fill="none"/>
<ellipse cx="461.8" cy="1006.1" rx="1.9" ry="3.2" transform="rotate(-25 461.8 1006.1)" stroke-width="1.0" fill="#fff"/>
<path d="M458.2 1010.4 L462.8 1008.3" stroke-width="1.0" fill="none"/>
<path d="M456.2 1006.1 L460.8 1004" stroke-width="1.0" fill="none"/>
<ellipse cx="457.2" cy="1008.3" rx="1.4" ry="2.4" transform="rotate(-25 457.2 1008.3)" stroke-width="1.6" fill="#fff"/>
<ellipse cx="461.8" cy="1006.1" rx="1.9" ry="3.2" transform="rotate(-25 461.8 1006.1)" stroke-width="1.0" fill="none"/>
<path d="M424.8 1037 L456 1009.5" stroke-width="1.1"/>
<path d="M463 1004.5 L470 1000.5" stroke-width="1.1"/>
<path d="M415.4 1059.5 L413.8 1061.5 L411.4 1061.1 L410.6 1058.5 L412.2 1056.5 L414.6 1056.9 Z" stroke-width="1.0" fill="#fff"/>
<ellipse cx="413" cy="1059" rx="1.4" ry="1.6" transform="rotate(-30 413 1059)" stroke-width="1.5" fill="none"/>
<circle cx="413" cy="1059" r="1.2" fill="#231f20" stroke="none"/>
<path d="M418.6 1096.1 L417 1098.1 L414.6 1097.7 L413.8 1095.1 L415.4 1093.1 L417.8 1093.5 Z" stroke-width="1.0" fill="#fff"/>
<ellipse cx="416.2" cy="1095.6" rx="1.4" ry="1.6" transform="rotate(-30 416.2 1095.6)" stroke-width="1.5" fill="none"/>
<circle cx="416.2" cy="1095.6" r="1.2" fill="#231f20" stroke="none"/>
<path d="M397.3 1090.8 L412.3 1062" stroke-width="1.1"/>
<path d="M397.3 1091.5 L413.3 1095" stroke-width="1.1"/>
<path d="M443.2 1141.3 L441.4 1143.6 L438.8 1143.1 L437.8 1140.3 L439.6 1138 L442.2 1138.5 Z" stroke-width="1.0" fill="#fff"/>
<ellipse cx="440.5" cy="1140.8" rx="1.5" ry="1.8" transform="rotate(-30 440.5 1140.8)" stroke-width="1.5" fill="none"/>
<circle cx="440.5" cy="1140.8" r="1.2" fill="#231f20" stroke="none"/>
<path d="M414.8 1132 L437.3 1139.5" stroke-width="1.1"/>
<ellipse cx="428" cy="1148.3" rx="2.2" ry="3.3" transform="rotate(-30 428 1148.3)" stroke-width="1.0" fill="#fff"/>
<ellipse cx="428" cy="1148.3" rx="1" ry="1.5" transform="rotate(-30 428 1148.3)" stroke-width="1.6" fill="none"/>
<ellipse cx="401.5" cy="1163.3" rx="2.2" ry="3.3" transform="rotate(-30 401.5 1163.3)" stroke-width="1.0" fill="#fff"/>
<ellipse cx="401.5" cy="1163.3" rx="1" ry="1.5" transform="rotate(-30 401.5 1163.3)" stroke-width="1.6" fill="none"/>
<path d="M382.3 1150.8 L425.3 1147" stroke-width="1.1"/>
<path d="M382.3 1151.5 L399 1162" stroke-width="1.1"/>
<path d="M431 1147 L438.5 1142.3" stroke-width="1.1"/>
<path d="M404.8 1162 L426 1150" stroke-width="1.1"/>
<path d="M373 1178 L373.5 1176.1 L375.3 1176.7 L376.7 1179.1 L376.2 1181 L374.4 1180.4 Z" stroke-width="1.1" fill="#fff"/>
<path d="M374.6 1177.1 L375.1 1175.2 L376.9 1175.8 L378.3 1178.2 L377.8 1180.1 L376 1179.6 Z" stroke-width="1.1" fill="#fff"/>
<ellipse cx="377.3" cy="1177.2" rx="1.9" ry="3.2" transform="rotate(150.61098853367918 377.3 1177.2)" stroke-width="1.1" fill="#fff"/>
<path d="M385.4 1171.2 L376.7 1176.1" stroke-width="1.1" fill="none"/>
<path d="M386.6 1173.4 L377.9 1178.3" stroke-width="1.1" fill="none"/>
<ellipse cx="377.6" cy="1177.1" rx="0.8" ry="1.3" transform="rotate(150.61098853367918 377.6 1177.1)" stroke-width="0.01" fill="#fff"/>
<path d="M376.7 1176.1 L376.8 1176 L376.9 1176 L377 1176 L377.1 1176 L377.2 1176.1 L377.3 1176.1 L377.5 1176.2 L377.6 1176.3 L377.7 1176.4 L377.8 1176.5 L377.9 1176.7 L378 1176.8 L378.1 1177 L378.1 1177.1 L378.2 1177.3 L378.2 1177.4 L378.2 1177.6 L378.2 1177.7 L378.2 1177.9 L378.2 1178 L378.1 1178.1 L378.1 1178.2 L378 1178.3 L377.9 1178.3" stroke-width="1.0" fill="none"/>
<ellipse cx="386" cy="1172.3" rx="0.8" ry="1.3" transform="rotate(150.61098853367918 386 1172.3)" stroke-width="1.1" fill="#fff"/>
<ellipse cx="386" cy="1172.3" rx="0.4" ry="0.7" transform="rotate(150.61098853367918 386 1172.3)" stroke-width="0.9" fill="none"/>
<path d="M386 1172.5 L399 1165" stroke-width="1.1"/>
<path d="M355.5 1169.5 L371.5 1178" stroke-width="1.1"/>
<rect x="415.2" y="1154" width="7.6" height="49" rx="2" fill="#231f20" stroke="none"/>
<path d="M416.5 1154 C416.5 1148 421.5 1148 421.5 1154" stroke-width="1.2"/>
<path d="M416.5 1203 C416.5 1209 421.5 1209 421.5 1203" stroke-width="1.2"/>
<path d="M416.3 1157 L421.7 1156.2" stroke-width="0.5"/>
<path d="M416.3 1160 L421.7 1159.2" stroke-width="0.5"/>
<path d="M416.3 1163 L421.7 1162.2" stroke-width="0.5"/>
<path d="M416.3 1166 L421.7 1165.2" stroke-width="0.5"/>
<path d="M416.3 1169 L421.7 1168.2" stroke-width="0.5"/>
<path d="M416.3 1172 L421.7 1171.2" stroke-width="0.5"/>
<path d="M416.3 1175 L421.7 1174.2" stroke-width="0.5"/>
<path d="M416.3 1178 L421.7 1177.2" stroke-width="0.5"/>
<path d="M416.3 1181 L421.7 1180.2" stroke-width="0.5"/>
<path d="M416.3 1184 L421.7 1183.2" stroke-width="0.5"/>
<path d="M416.3 1187 L421.7 1186.2" stroke-width="0.5"/>
<path d="M416.3 1190 L421.7 1189.2" stroke-width="0.5"/>
<path d="M416.3 1193 L421.7 1192.2" stroke-width="0.5"/>
<path d="M416.3 1196 L421.7 1195.2" stroke-width="0.5"/>
<path d="M416.3 1199 L421.7 1198.2" stroke-width="0.5"/>
<path d="M416.3 1202 L421.7 1201.2" stroke-width="0.5"/>
<path d="M398.5 1205.8 L414.8 1195.8" stroke-width="1.1"/>
<path d="M299.2 1064.2 L373.3 1021.7" stroke-width="1.1"/>
<path d="M373.3 1021.7 C374 1021.6 376.1 1020.8 377.5 1020.8 C378.9 1020.8 380.1 1020.8 381.7 1021.7 C383.3 1022.6 385.6 1024.6 387 1026 C388.4 1027.4 389.2 1027.7 390 1030 C390.8 1032.3 392 1037.2 391.7 1040 C391.4 1042.8 388.9 1045.6 388.3 1046.7" stroke-width="1.1" fill="none"/>
<path d="M317.5 1089.2 L388.3 1046.7" stroke-width="1.1"/>
<path d="M283.3 1071.7 C283.3 1071.1 282.7 1069.7 283.3 1068.3 C283.9 1066.9 285 1064.5 286.7 1063.3 C288.4 1062 291.7 1061 293.3 1060.8 C294.9 1060.5 295.5 1061.2 296.5 1061.8 C297.5 1062.4 298.8 1063.8 299.2 1064.2" stroke-width="1.1" fill="none"/>
<path d="M283.3 1071.7 C281.9 1072.5 276.8 1075 275 1076.7 C273.2 1078.4 272.3 1079.5 272.5 1081.7 C272.7 1083.9 274.5 1087.2 276 1090 C277.5 1092.8 280.9 1095.8 281.7 1098.3 C282.5 1100.8 280.2 1103.2 280.8 1105 C281.4 1106.8 283.2 1108.1 285 1109.2 C286.8 1110.3 289.2 1111.9 291.7 1111.7 C294.2 1111.5 296.4 1110.2 300 1108.3 C303.6 1106.3 310.4 1102.5 313.3 1100 C316.2 1097.5 316.9 1095.8 317.5 1093.3 C318.1 1090.8 317.4 1087.1 316.7 1085 C316 1082.9 314.7 1081.3 313.3 1080.8 C311.9 1080.2 309.1 1081.5 308.3 1081.7" stroke-width="1.1" fill="none"/>
<path d="M286.7 1078.3 C289.1 1076.4 296.5 1072.7 300 1071.7 C303.5 1070.7 305.8 1071.4 307.5 1072.5 C309.2 1073.6 309.9 1076.6 310 1078.3 C310.1 1080 310.5 1080.8 308.3 1082.5 C306.1 1084.2 299.9 1087.5 296.7 1088.3 C293.5 1089.1 291 1088.3 289.2 1087.5 C287.4 1086.7 286.2 1084.8 285.8 1083.3 C285.4 1081.8 284.3 1080.2 286.7 1078.3 Z" stroke-width="1.1" fill="none"/>
<path d="M288.5 1080 C290.6 1079 298.1 1074.7 301 1073.8 C303.9 1072.9 305.2 1074.5 306 1074.6" stroke-width="0.9" fill="none"/>
<path d="M299 1066.8 L306 1062.8" stroke-width="0.9"/>
<path d="M268.8 1120.8 L283.8 1109.5" stroke-width="1.1"/>
<path d="M297.5 1030 L385 979.7 L415 995.8" stroke-width="1.1" fill="none"/>
<ellipse cx="293.5" cy="1031.2" rx="3.4" ry="4.8" transform="rotate(-30 293.5 1031.2)" stroke-width="1.0" fill="#fff"/>
<path d="M288.2 1028.6 L291 1027" stroke-width="1.0" fill="none"/>
<path d="M292.2 1036.8 L295.6 1035" stroke-width="1.0" fill="none"/>
<ellipse cx="290.3" cy="1033" rx="3.4" ry="4.8" transform="rotate(-30 290.3 1033)" stroke-width="1.1" fill="#fff"/>
<ellipse cx="290.3" cy="1033" rx="1.8" ry="2.8" transform="rotate(-30 290.3 1033)" stroke-width="1.5" fill="none"/>
<path d="M275 1018.3 L287.5 1027" stroke-width="1.1"/>
<path d="M266.3 1046.5 L285 1035.8" stroke-width="1.1"/>
<ellipse cx="260.5" cy="1050.5" rx="3" ry="5.2" transform="rotate(-30 260.5 1050.5)" stroke-width="2.2" fill="none"/>
<ellipse cx="257.5" cy="1052.2" rx="3" ry="5.2" transform="rotate(-30 257.5 1052.2)" stroke-width="1.8" fill="none"/>
<path d="M250 1050 L258 1046" stroke-width="1.6"/>
<path d="M236.3 1038.3 L253 1047.8" stroke-width="1.1"/>
<path d="M232.5 1065.8 L253.8 1053.3" stroke-width="1.1"/>
<path d="M202.5 1076.7 C202.5 1080 203 1082.5 204.2 1084.2 C205.5 1086.5 207 1088 208.3 1088.3 L213.3 1086.2 L213.3 1077.5 C213.5 1075 215 1073.6 216.7 1073.3 L221.7 1072.5 C223.3 1072.8 224.2 1074 224.2 1075.8 L224.2 1080 L228.3 1078.3 L228.3 1075 L231.7 1073.3 L232.3 1076.5 L233.3 1075.8 L233.3 1066.7 C233 1064.5 232 1063 230.8 1062.5 C229.5 1061.5 228.5 1061.2 227.5 1061.3 L206.7 1071.7 C204.5 1073 203 1074.5 202.5 1076.7 Z" stroke-width="1.1" fill="#fff"/>
<path d="M203 1077.5 L208.3 1080.5 L208.3 1088.3" stroke-width="0.9" fill="none"/>
<path d="M208.3 1080.5 L213.3 1078" stroke-width="0.9"/>
<path d="M216 1086 C216 1084.8 215.7 1080.2 216 1078.5 C216.3 1076.8 217.2 1076.4 218 1076 C218.8 1075.6 220.5 1076.2 221 1076.2" stroke-width="0.9" fill="none"/>
<path d="M192.5 1059.5 L210 1069" stroke-width="1.1"/>
<path d="M188.8 1092 L203.8 1083.3" stroke-width="1.1"/>
<path d="M169 1100.7 L169.6 1098.3 L172 1099 L173.8 1102.1 L173.2 1104.5 L170.8 1103.8 Z" stroke-width="1.1" fill="#fff"/>
<path d="M171 1099.5 L171.6 1097.1 L174 1097.8 L175.8 1100.9 L175.2 1103.4 L172.8 1102.6 Z" stroke-width="1.1" fill="#fff"/>
<ellipse cx="174.5" cy="1099.6" rx="2.4" ry="4.2" transform="rotate(150.30334746230113 174.5 1099.6)" stroke-width="1.1" fill="#fff"/>
<path d="M186.4 1090.7 L173.6 1098" stroke-width="1.1" fill="none"/>
<path d="M188.2 1093.9 L175.4 1101.2" stroke-width="1.1" fill="none"/>
<ellipse cx="174.8" cy="1099.5" rx="1" ry="1.8" transform="rotate(150.30334746230113 174.8 1099.5)" stroke-width="0.01" fill="#fff"/>
<path d="M173.6 1098 L173.7 1098 L173.9 1098 L174 1098 L174.2 1098 L174.4 1098 L174.5 1098.1 L174.7 1098.2 L174.9 1098.4 L175 1098.5 L175.2 1098.7 L175.3 1098.9 L175.4 1099.1 L175.5 1099.3 L175.6 1099.5 L175.7 1099.7 L175.8 1099.9 L175.8 1100.1 L175.8 1100.3 L175.8 1100.5 L175.7 1100.7 L175.7 1100.8 L175.6 1101 L175.5 1101.1 L175.4 1101.2" stroke-width="1.0" fill="none"/>
<ellipse cx="187.3" cy="1092.3" rx="1" ry="1.8" transform="rotate(150.30334746230113 187.3 1092.3)" stroke-width="1.1" fill="#fff"/>
<ellipse cx="187.3" cy="1092.3" rx="0.5" ry="1" transform="rotate(150.30334746230113 187.3 1092.3)" stroke-width="0.9" fill="none"/>
<path d="M152 1092 L168 1100.8" stroke-width="1.1"/>
<ellipse cx="677.4" cy="880.7" rx="2.1" ry="3.6" transform="rotate(-28 677.4 880.7)" stroke-width="1.0" fill="#fff"/>
<path d="M673.8 885.7 L678.7 883.1" stroke-width="1.0" fill="none"/>
<path d="M671.3 880.9 L676.2 878.3" stroke-width="1.0" fill="none"/>
<ellipse cx="672.6" cy="883.3" rx="1.6" ry="2.7" transform="rotate(-28 672.6 883.3)" stroke-width="1.6" fill="#fff"/>
<ellipse cx="677.4" cy="880.7" rx="2.1" ry="3.6" transform="rotate(-28 677.4 880.7)" stroke-width="1.0" fill="none"/>
<path d="M665.8 856 L674 878" stroke-width="1.1"/>
<path d="M671.5 884.5 L666 887.6" stroke-width="1.1"/>
<ellipse cx="764.6" cy="924.7" rx="2.1" ry="3.6" transform="rotate(-28 764.6 924.7)" stroke-width="1.0" fill="#fff"/>
<path d="M761 929.7 L765.9 927.1" stroke-width="1.0" fill="none"/>
<path d="M758.5 924.9 L763.4 922.3" stroke-width="1.0" fill="none"/>
<ellipse cx="759.8" cy="927.3" rx="1.6" ry="2.7" transform="rotate(-28 759.8 927.3)" stroke-width="1.6" fill="#fff"/>
<ellipse cx="764.6" cy="924.7" rx="2.1" ry="3.6" transform="rotate(-28 764.6 924.7)" stroke-width="1.0" fill="none"/>
<path d="M742 906 L759.5 924.5" stroke-width="1.1"/>
<path d="M758.5 928.4 L754 931" stroke-width="1.1"/>
<path d="M869.1 1118.7 L868.7 1121.3 L870.9 1123.8 L869.1 1125 L870.1 1128.1 L867.6 1127.3 L867.1 1129.8 L864.9 1127.4 L863 1128.3 L861.9 1125.2 L859.5 1124.3 L859.9 1121.7 L857.7 1119.2 L859.5 1118 L858.5 1114.9 L861 1115.7 L861.5 1113.2 L863.7 1115.6 L865.6 1114.7 L866.7 1117.8 Z" stroke-width="1.5" fill="#fff"/>
<ellipse cx="864.3" cy="1121.5" rx="3.2" ry="5" transform="rotate(-30 864.3 1121.5)" stroke-width="1.5" fill="none"/>
<ellipse cx="864.3" cy="1121.5" rx="1.4" ry="2.3" transform="rotate(-30 864.3 1121.5)" stroke-width="1.0" fill="none"/>
<path d="M876.8 1144.2 L876.4 1146.8 L878.6 1149.3 L876.8 1150.5 L877.8 1153.6 L875.3 1152.8 L874.8 1155.3 L872.6 1152.9 L870.7 1153.8 L869.6 1150.7 L867.2 1149.8 L867.6 1147.2 L865.4 1144.7 L867.2 1143.5 L866.2 1140.4 L868.7 1141.2 L869.2 1138.7 L871.4 1141.1 L873.3 1140.2 L874.4 1143.3 Z" stroke-width="1.5" fill="#fff"/>
<ellipse cx="872" cy="1147" rx="3.2" ry="5" transform="rotate(-30 872 1147)" stroke-width="1.5" fill="none"/>
<ellipse cx="872" cy="1147" rx="1.4" ry="2.3" transform="rotate(-30 872 1147)" stroke-width="1.0" fill="none"/>
<path d="M842 1105.8 L858.3 1115.8" stroke-width="1.1"/>
<path d="M874.5 1154.5 L883.3 1175.8" stroke-width="1.1"/>
<path d="M872 1117 L903.3 1099.5" stroke-width="1.1"/>
<path d="M929.6 1086.3 L928.8 1089.1 L926 1088.3 L923.9 1084.5 L924.6 1081.6 L927.5 1082.5 Z" stroke-width="1.1" fill="#fff"/>
<path d="M927 1087.7 L926.3 1090.6 L923.4 1089.7 L921.3 1086 L922.1 1083.1 L924.9 1083.9 Z" stroke-width="1.1" fill="#fff"/>
<ellipse cx="922.8" cy="1087.6" rx="3.1" ry="5.4" transform="rotate(-29.357753542791624 922.8 1087.6)" stroke-width="1.1" fill="#fff"/>
<path d="M906.3 1099.5 L923.9 1089.6" stroke-width="1.1" fill="none"/>
<path d="M904.1 1095.5 L921.7 1085.6" stroke-width="1.1" fill="none"/>
<ellipse cx="922.5" cy="1087.7" rx="1.3" ry="2.3" transform="rotate(-29.357753542791624 922.5 1087.7)" stroke-width="0.01" fill="#fff"/>
<path d="M923.9 1089.6 L923.8 1089.7 L923.6 1089.7 L923.4 1089.7 L923.2 1089.7 L923 1089.6 L922.7 1089.5 L922.5 1089.4 L922.3 1089.2 L922.1 1089 L921.9 1088.8 L921.8 1088.5 L921.6 1088.3 L921.5 1088 L921.3 1087.7 L921.3 1087.5 L921.2 1087.2 L921.2 1086.9 L921.2 1086.7 L921.2 1086.4 L921.2 1086.2 L921.3 1086 L921.4 1085.8 L921.5 1085.7 L921.7 1085.6" stroke-width="1.0" fill="none"/>
<ellipse cx="905.2" cy="1097.5" rx="1.3" ry="2.3" transform="rotate(-29.357753542791624 905.2 1097.5)" stroke-width="1.1" fill="#fff"/>
<ellipse cx="905.2" cy="1097.5" rx="0.7" ry="1.3" transform="rotate(-29.357753542791624 905.2 1097.5)" stroke-width="0.9" fill="none"/>
<path d="M888.3 1084.5 L904.5 1092" stroke-width="1.1"/>
<path d="M914.9 1125.6 L914.1 1128.4 L911.3 1127.6 L909.2 1123.8 L909.9 1120.9 L912.8 1121.8 Z" stroke-width="1.1" fill="#fff"/>
<path d="M912.3 1127 L911.6 1129.9 L908.7 1129 L906.6 1125.3 L907.4 1122.4 L910.2 1123.3 Z" stroke-width="1.1" fill="#fff"/>
<ellipse cx="908.1" cy="1126.9" rx="3.1" ry="5.4" transform="rotate(-29.297267126081454 908.1 1126.9)" stroke-width="1.1" fill="#fff"/>
<path d="M891.2 1139 L909.2 1128.9" stroke-width="1.1" fill="none"/>
<path d="M889 1135 L907 1124.9" stroke-width="1.1" fill="none"/>
<ellipse cx="907.8" cy="1127" rx="1.3" ry="2.3" transform="rotate(-29.297267126081454 907.8 1127)" stroke-width="0.01" fill="#fff"/>
<path d="M909.2 1128.9 L909.1 1129 L908.9 1129 L908.7 1129 L908.5 1129 L908.3 1128.9 L908 1128.8 L907.8 1128.7 L907.6 1128.5 L907.4 1128.3 L907.2 1128.1 L907.1 1127.8 L906.9 1127.6 L906.8 1127.3 L906.6 1127 L906.6 1126.8 L906.5 1126.5 L906.5 1126.2 L906.5 1126 L906.5 1125.7 L906.5 1125.5 L906.6 1125.3 L906.7 1125.1 L906.8 1125 L907 1124.9" stroke-width="1.0" fill="none"/>
<ellipse cx="890.1" cy="1137" rx="1.3" ry="2.3" transform="rotate(-29.297267126081454 890.1 1137)" stroke-width="1.1" fill="#fff"/>
<ellipse cx="890.1" cy="1137" rx="0.7" ry="1.3" transform="rotate(-29.297267126081454 890.1 1137)" stroke-width="0.9" fill="none"/>
<path d="M888.3 1138.3 L879.5 1143.3" stroke-width="1.1"/>
<path d="M911.5 1131 L921 1152" stroke-width="1.1"/>
<path d="M864.5 1153.3 L849.5 1162" stroke-width="1.1"/>
<ellipse cx="849" cy="1131" rx="2.6" ry="4.2" transform="rotate(-30 849 1131)" stroke-width="1.0" fill="#fff"/>
<path d="M843.7 1129.2 L847.2 1127.4" stroke-width="1.0" fill="none"/>
<path d="M847.3 1136.4 L850.8 1134.6" stroke-width="1.0" fill="none"/>
<ellipse cx="845.5" cy="1132.8" rx="2.6" ry="4.2" transform="rotate(-30 845.5 1132.8)" stroke-width="1.1" fill="#fff"/>
<ellipse cx="845.5" cy="1132.8" rx="1.3" ry="2.3" transform="rotate(-30 845.5 1132.8)" stroke-width="1.0" fill="none"/>
<ellipse cx="848" cy="1163.5" rx="2.6" ry="4.2" transform="rotate(-30 848 1163.5)" stroke-width="1.0" fill="#fff"/>
<path d="M842.7 1161.7 L846.2 1159.9" stroke-width="1.0" fill="none"/>
<path d="M846.3 1168.9 L849.8 1167.1" stroke-width="1.0" fill="none"/>
<ellipse cx="844.5" cy="1165.3" rx="2.6" ry="4.2" transform="rotate(-30 844.5 1165.3)" stroke-width="1.1" fill="#fff"/>
<ellipse cx="844.5" cy="1165.3" rx="1.3" ry="2.3" transform="rotate(-30 844.5 1165.3)" stroke-width="1.0" fill="none"/>
<path d="M815.8 1114 L843.3 1128.3" stroke-width="1.1"/>
<path d="M845.8 1168.3 L855.8 1184.5" stroke-width="1.1"/>
<path d="M849 1163.5 L864 1155.5" stroke-width="0.9"/>
<ellipse cx="813.3" cy="1150.8" rx="2.6" ry="3.8" transform="rotate(-30 813.3 1150.8)" stroke-width="1.0" fill="#fff"/>
<ellipse cx="813.3" cy="1150.8" rx="1.2" ry="1.7" transform="rotate(-30 813.3 1150.8)" stroke-width="1.6" fill="none"/>
<ellipse cx="827.5" cy="1172.5" rx="2.6" ry="3.8" transform="rotate(-30 827.5 1172.5)" stroke-width="1.0" fill="#fff"/>
<ellipse cx="827.5" cy="1172.5" rx="1.2" ry="1.7" transform="rotate(-30 827.5 1172.5)" stroke-width="0.9" fill="none"/>
<path d="M779 1133.3 L810.8 1148.3" stroke-width="1.1"/>
<path d="M828.3 1177 L826.5 1202" stroke-width="1.1"/>
<path d="M817 1148.3 L843.3 1135.8" stroke-width="1.1"/>
<path d="M842 1165.8 L832 1170.8" stroke-width="1.1"/>
<path d="M940.5 1102.5 L955.5 1105 L969.3 1096.5 L971.8 1102" stroke-width="1.1" fill="none"/>
<path d="M971.8 1102 C974.1 1109.5 982.4 1136.2 985.5 1147 C988.6 1157.8 989.9 1161.2 990.5 1167 C991.1 1172.8 989.5 1179.5 989.3 1182" stroke-width="1.1" fill="none"/>
<path d="M989.3 1182 L975.5 1191.5 L971.8 1189.5" stroke-width="1.1" fill="none"/>
<path d="M971.8 1189.5 C969.1 1183.2 960.7 1166.5 955.5 1152 C950.3 1137.5 943 1110.8 940.5 1102.5" stroke-width="1.1" fill="none"/>
<path d="M955.5 1105 C958.2 1115.3 968.5 1154.2 971.8 1167 C975.1 1179.8 975 1178 975.5 1182 C976 1186 975.1 1189.3 975 1190.8" stroke-width="1.0" fill="none"/>
<ellipse cx="945.5" cy="1112" rx="1" ry="1.6" transform="rotate(-20 945.5 1112)" stroke-width="1.1" fill="none"/>
<ellipse cx="963" cy="1172.5" rx="1" ry="1.6" transform="rotate(-20 963 1172.5)" stroke-width="1.1" fill="none"/>
<path d="M1009.3 1183.3 L988 1174" stroke-width="1.1"/>
<path d="M972.5 1167.5 L973 1171" stroke-width="1.0" fill="none"/>
<path d="M742 1222.6 L748.4 1220.6 L769.6 1280.6 L763.2 1283 Z" stroke-width="1.3" fill="#444"/>
<ellipse cx="744.1" cy="1224.7" rx="1" ry="1.3" transform="rotate(0 744.1 1224.7)" stroke-width="0.7" fill="#fff"/>
<ellipse cx="746.9" cy="1223.8" rx="1" ry="1.3" transform="rotate(0 746.9 1223.8)" stroke-width="0.7" fill="#fff"/>
<ellipse cx="746.4" cy="1230.8" rx="1" ry="1.3" transform="rotate(0 746.4 1230.8)" stroke-width="0.7" fill="#fff"/>
<ellipse cx="749.2" cy="1229.9" rx="1" ry="1.3" transform="rotate(0 749.2 1229.9)" stroke-width="0.7" fill="#fff"/>
<ellipse cx="748.8" cy="1237" rx="1" ry="1.3" transform="rotate(0 748.8 1237)" stroke-width="0.7" fill="#fff"/>
<ellipse cx="751.6" cy="1236.1" rx="1" ry="1.3" transform="rotate(0 751.6 1236.1)" stroke-width="0.7" fill="#fff"/>
<ellipse cx="751.1" cy="1243.1" rx="1" ry="1.3" transform="rotate(0 751.1 1243.1)" stroke-width="0.7" fill="#fff"/>
<ellipse cx="753.9" cy="1242.2" rx="1" ry="1.3" transform="rotate(0 753.9 1242.2)" stroke-width="0.7" fill="#fff"/>
<ellipse cx="753.4" cy="1249.2" rx="1" ry="1.3" transform="rotate(0 753.4 1249.2)" stroke-width="0.7" fill="#fff"/>
<ellipse cx="756.2" cy="1248.3" rx="1" ry="1.3" transform="rotate(0 756.2 1248.3)" stroke-width="0.7" fill="#fff"/>
<ellipse cx="755.8" cy="1255.4" rx="1" ry="1.3" transform="rotate(0 755.8 1255.4)" stroke-width="0.7" fill="#fff"/>
<ellipse cx="758.6" cy="1254.5" rx="1" ry="1.3" transform="rotate(0 758.6 1254.5)" stroke-width="0.7" fill="#fff"/>
<ellipse cx="758.1" cy="1261.5" rx="1" ry="1.3" transform="rotate(0 758.1 1261.5)" stroke-width="0.7" fill="#fff"/>
<ellipse cx="760.9" cy="1260.6" rx="1" ry="1.3" transform="rotate(0 760.9 1260.6)" stroke-width="0.7" fill="#fff"/>
<ellipse cx="760.4" cy="1267.6" rx="1" ry="1.3" transform="rotate(0 760.4 1267.6)" stroke-width="0.7" fill="#fff"/>
<ellipse cx="763.2" cy="1266.7" rx="1" ry="1.3" transform="rotate(0 763.2 1266.7)" stroke-width="0.7" fill="#fff"/>
<ellipse cx="762.8" cy="1273.8" rx="1" ry="1.3" transform="rotate(0 762.8 1273.8)" stroke-width="0.7" fill="#fff"/>
<ellipse cx="765.6" cy="1272.9" rx="1" ry="1.3" transform="rotate(0 765.6 1272.9)" stroke-width="0.7" fill="#fff"/>
<ellipse cx="765.1" cy="1279.9" rx="1" ry="1.3" transform="rotate(0 765.1 1279.9)" stroke-width="0.7" fill="#fff"/>
<ellipse cx="767.9" cy="1279" rx="1" ry="1.3" transform="rotate(0 767.9 1279)" stroke-width="0.7" fill="#fff"/>
<path d="M727 1247 L742 1237" stroke-width="1.1"/>
<path d="M762 1298.5 L766 1296.5 L768 1305 L763.5 1307.5 Z" stroke-width="1.4" fill="#777"/>
<path d="M761 1300 L761.5 1306" stroke-width="1.4"/>
<path d="M743.3 1317 L760.8 1304.5" stroke-width="1.1"/>
<rect x="95" y="108" width="792" height="7.8" fill="#231f20" stroke="none"/>
<rect x="95" y="120.85000000000001" width="792" height="1.15" fill="#231f20" stroke="none"/>
<rect x="95" y="124.95" width="792" height="1.15" fill="#231f20" stroke="none"/>
<rect x="95" y="129.85" width="792" height="1.15" fill="#231f20" stroke="none"/>
<text x="127.7" y="575.6" font-size="16.1" textLength="188" lengthAdjust="spacingAndGlyphs" stroke="#231f20" stroke-width="0.3" fill="#231f20">HONDA ENGINES USE</text>
<text x="127.7" y="593.1" font-size="16.1" textLength="189.6" lengthAdjust="spacingAndGlyphs" stroke="#231f20" stroke-width="0.3" fill="#231f20">EXISTING HARDWARE</text>
<text x="127.7" y="623" font-size="16.1" textLength="160.4" lengthAdjust="spacingAndGlyphs" stroke="#231f20" stroke-width="0.3" fill="#231f20">B&amp;S ENGINES USE</text>
<text x="127.7" y="640.3" font-size="16.1" textLength="139" lengthAdjust="spacingAndGlyphs" stroke="#231f20" stroke-width="0.3" fill="#231f20">548898 SCREWS</text>
<text x="909.8" y="611" font-size="16.1" textLength="138" lengthAdjust="spacingAndGlyphs" stroke="#231f20" stroke-width="0.3" fill="#231f20">CRIMP ENDS OF</text>
<text x="909.8" y="628.3" font-size="16.1" textLength="149" lengthAdjust="spacingAndGlyphs" stroke="#231f20" stroke-width="0.3" fill="#231f20">SPRING AROUND</text>
<text x="909.8" y="645.6" font-size="16.1" textLength="145" lengthAdjust="spacingAndGlyphs" stroke="#231f20" stroke-width="0.3" fill="#231f20">CABLE END AND</text>
<text x="909.8" y="662.9" font-size="16.1" textLength="150" lengthAdjust="spacingAndGlyphs" stroke="#231f20" stroke-width="0.3" fill="#231f20">BAIL HARDWARE</text>
<text x="909.8" y="680.2" font-size="16.1" textLength="149" lengthAdjust="spacingAndGlyphs" stroke="#231f20" stroke-width="0.3" fill="#231f20">SO THAT SPRING</text>
<text x="909.8" y="697.5" font-size="16.1" textLength="142" lengthAdjust="spacingAndGlyphs" stroke="#231f20" stroke-width="0.3" fill="#231f20">WILL NOT COME</text>
<text x="909.8" y="714.8" font-size="16.1" textLength="157.5" lengthAdjust="spacingAndGlyphs" stroke="#231f20" stroke-width="0.3" fill="#231f20">OFF WHEN CABLE</text>
<text x="909.8" y="732.1" font-size="16.1" textLength="82" lengthAdjust="spacingAndGlyphs" stroke="#231f20" stroke-width="0.3" fill="#231f20">IS LOOSE</text>
<text x="795.5" y="1279.6" font-size="16.1" textLength="212" lengthAdjust="spacingAndGlyphs" stroke="#231f20" stroke-width="0.3" fill="#231f20">USE WASHERS (ITEM 15)</text>
<text x="795.5" y="1297.1" font-size="16.1" textLength="250" lengthAdjust="spacingAndGlyphs" stroke="#231f20" stroke-width="0.3" fill="#231f20">AS NEEDED TO ALIGN CHAIN</text>
<text x="795.5" y="1314.6" font-size="16.1" textLength="194.5" lengthAdjust="spacingAndGlyphs" stroke="#231f20" stroke-width="0.3" fill="#231f20">TO IDLER SPROCKETS</text>
<text x="232.2" y="244.1" font-size="16.4" stroke="#231f20" stroke-width="0.35" fill="#231f20">31</text>
<text x="293.7" y="256.6" font-size="16.4" stroke="#231f20" stroke-width="0.35" fill="#231f20">1</text>
<text x="397.7" y="306.1" font-size="16.4" stroke="#231f20" stroke-width="0.35" fill="#231f20">23</text>
<text x="425.2" y="253.1" font-size="16.4" stroke="#231f20" stroke-width="0.35" fill="#231f20">31</text>
<text x="510.7" y="265.1" font-size="16.4" stroke="#231f20" stroke-width="0.35" fill="#231f20">1</text>
<text x="630.7" y="304.1" font-size="16.4" stroke="#231f20" stroke-width="0.35" fill="#231f20">11</text>
<text x="782.7" y="286.1" font-size="16.4" stroke="#231f20" stroke-width="0.35" fill="#231f20">33</text>
<text x="853.7" y="279.6" font-size="16.4" stroke="#231f20" stroke-width="0.35" fill="#231f20">31</text>
<text x="869.2" y="329.6" font-size="16.4" stroke="#231f20" stroke-width="0.35" fill="#231f20">33</text>
<text x="918.7" y="318.1" font-size="16.4" stroke="#231f20" stroke-width="0.35" fill="#231f20">31</text>
<text x="192.2" y="391.6" font-size="16.4" stroke="#231f20" stroke-width="0.35" fill="#231f20">33</text>
<text x="169.2" y="412.1" font-size="16.4" stroke="#231f20" stroke-width="0.35" fill="#231f20">31</text>
<text x="414.7" y="377.1" font-size="16.4" stroke="#231f20" stroke-width="0.35" fill="#231f20">10</text>
<text x="284.7" y="462.1" font-size="16.4" stroke="#231f20" stroke-width="0.35" fill="#231f20">33</text>
<text x="264.2" y="485.1" font-size="16.4" stroke="#231f20" stroke-width="0.35" fill="#231f20">31</text>
<text x="385.2" y="492.6" font-size="16.4" stroke="#231f20" stroke-width="0.35" fill="#231f20">34</text>
<text x="439.2" y="485.1" font-size="16.4" stroke="#231f20" stroke-width="0.35" fill="#231f20">12</text>
<text x="470.7" y="459.1" font-size="16.4" stroke="#231f20" stroke-width="0.35" fill="#231f20">31</text>
<text x="630.5" y="541.1" font-size="16.4" stroke="#231f20" stroke-width="0.35" fill="#231f20">34</text>
<text x="718.2" y="519.6" font-size="16.4" stroke="#231f20" stroke-width="0.35" fill="#231f20">12</text>
<text x="781.7" y="497.6" font-size="16.4" stroke="#231f20" stroke-width="0.35" fill="#231f20">31</text>
<text x="545.7" y="648.1" font-size="16.4" stroke="#231f20" stroke-width="0.35" fill="#231f20">18</text>
<text x="493.7" y="672.4" font-size="16.4" stroke="#231f20" stroke-width="0.35" fill="#231f20">39</text>
<text x="374.2" y="719.9" font-size="16.4" stroke="#231f20" stroke-width="0.35" fill="#231f20">14</text>
<text x="711.7" y="739.9" font-size="16.4" stroke="#231f20" stroke-width="0.35" fill="#231f20">6</text>
<text x="875.5" y="692.4" font-size="16.4" stroke="#231f20" stroke-width="0.35" fill="#231f20">24</text>
<text x="240.7" y="749.9" font-size="16.4" stroke="#231f20" stroke-width="0.35" fill="#231f20">9</text>
<text x="205.2" y="810.5" font-size="16.4" stroke="#231f20" stroke-width="0.35" fill="#231f20">23</text>
<text x="140.2" y="809.4" font-size="16.4" stroke="#231f20" stroke-width="0.35" fill="#231f20">20</text>
<text x="192.2" y="934.2" font-size="16.4" stroke="#231f20" stroke-width="0.35" fill="#231f20">22</text>
<text x="146" y="949.6" font-size="16.4" stroke="#231f20" stroke-width="0.35" fill="#231f20">27</text>
<text x="385.2" y="906.1" font-size="16.4" stroke="#231f20" stroke-width="0.35" fill="#231f20">29</text>
<text x="357" y="961.6" font-size="16.4" stroke="#231f20" stroke-width="0.35" fill="#231f20">25</text>
<text x="648" y="853.1" font-size="16.4" stroke="#231f20" stroke-width="0.35" fill="#231f20">23</text>
<text x="723" y="903.1" font-size="16.4" stroke="#231f20" stroke-width="0.35" fill="#231f20">23</text>
<text x="822.2" y="941.1" font-size="16.4" stroke="#231f20" stroke-width="0.35" fill="#231f20">28</text>
<text x="938.2" y="857.1" font-size="16.4" stroke="#231f20" stroke-width="0.35" fill="#231f20">3</text>
<text x="957.7" y="869.9" font-size="16.4" stroke="#231f20" stroke-width="0.35" fill="#231f20">32</text>
<text x="1005.7" y="851.6" font-size="16.4" stroke="#231f20" stroke-width="0.35" fill="#231f20">2</text>
<text x="875" y="997.6" font-size="16.4" stroke="#231f20" stroke-width="0.35" fill="#231f20">26</text>
<text x="828.7" y="1017.6" font-size="16.4" stroke="#231f20" stroke-width="0.35" fill="#231f20">4</text>
<text x="757.2" y="1002.1" font-size="16.4" stroke="#231f20" stroke-width="0.35" fill="#231f20">25</text>
<text x="628.7" y="1037.1" font-size="16.4" stroke="#231f20" stroke-width="0.35" fill="#231f20">23</text>
<text x="617.2" y="1081.6" font-size="16.4" stroke="#231f20" stroke-width="0.35" fill="#231f20">29</text>
<text x="709.7" y="1082.1" font-size="16.4" stroke="#231f20" stroke-width="0.35" fill="#231f20">38</text>
<text x="254.7" y="1018.4" font-size="16.4" stroke="#231f20" stroke-width="0.35" fill="#231f20">21</text>
<text x="217.5" y="1037.6" font-size="16.4" stroke="#231f20" stroke-width="0.35" fill="#231f20">19</text>
<text x="173.7" y="1060.9" font-size="16.4" stroke="#231f20" stroke-width="0.35" fill="#231f20">16</text>
<text x="132.2" y="1092.6" font-size="16.4" stroke="#231f20" stroke-width="0.35" fill="#231f20">36</text>
<text x="257.2" y="1131.6" font-size="16.4" stroke="#231f20" stroke-width="0.35" fill="#231f20">5</text>
<text x="402" y="1045.9" font-size="16.4" stroke="#231f20" stroke-width="0.35" fill="#231f20">23</text>
<text x="376.2" y="1098.4" font-size="16.4" stroke="#231f20" stroke-width="0.35" fill="#231f20">25</text>
<text x="395.7" y="1131.6" font-size="16.4" stroke="#231f20" stroke-width="0.35" fill="#231f20">29</text>
<text x="373.5" y="1151.6" font-size="16.4" stroke="#231f20" stroke-width="0.35" fill="#231f20">1</text>
<text x="336.2" y="1170.1" font-size="16.4" stroke="#231f20" stroke-width="0.35" fill="#231f20">35</text>
<text x="378" y="1219.1" font-size="16.4" stroke="#231f20" stroke-width="0.35" fill="#231f20">17</text>
<text x="865.7" y="1084.1" font-size="16.4" stroke="#231f20" stroke-width="0.35" fill="#231f20">37</text>
<text x="823.2" y="1105.1" font-size="16.4" stroke="#231f20" stroke-width="0.35" fill="#231f20">30</text>
<text x="794.5" y="1114.8" font-size="16.4" stroke="#231f20" stroke-width="0.35" fill="#231f20">13</text>
<text x="759.7" y="1133.2" font-size="16.4" stroke="#231f20" stroke-width="0.35" fill="#231f20">15</text>
<text x="915.7" y="1166.9" font-size="16.4" stroke="#231f20" stroke-width="0.35" fill="#231f20">37</text>
<text x="877.5" y="1190.3" font-size="16.4" stroke="#231f20" stroke-width="0.35" fill="#231f20">30</text>
<text x="846.7" y="1197.9" font-size="16.4" stroke="#231f20" stroke-width="0.35" fill="#231f20">13</text>
<text x="816.2" y="1215.4" font-size="16.4" stroke="#231f20" stroke-width="0.35" fill="#231f20">15</text>
<text x="1009.7" y="1194.1" font-size="16.4" stroke="#231f20" stroke-width="0.35" fill="#231f20">41</text>
<text x="715.5" y="1256.6" font-size="16.4" stroke="#231f20" stroke-width="0.35" fill="#231f20">7</text>
<text x="731.7" y="1328.4" font-size="16.4" stroke="#231f20" stroke-width="0.35" fill="#231f20">8</text>
<path d="M312 313.2 Q308 313.4 304 315.3 L264 333.6 Q261 335 258.5 337.4 L233.6 361.5 Q232.2 363 232.1 366 C232.5 376 236 388 246 392.5" stroke-width="1.1"/>
<path d="M246 392.5 C253.7 396.1 259 397.3 275 406 C291 414.7 292.7 415.1 306 425 C319.3 434.9 315.9 433.1 325 443 C334.1 452.9 333.6 454 340 462 C346.4 470 345 469.5 349 473 C353 476.5 352.1 476.3 355 475 C357.9 473.7 355.7 474.7 360 468 C364.3 461.3 362.1 458.8 371 450 C379.9 441.2 382.2 442.3 393.5 435 C404.8 427.7 407.5 427.6 413.5 422.5 C419.5 417.4 415.3 417.7 416 416" stroke-width="1.1" fill="none"/>
<path d="M312 313.2 C313.6 313.3 314.5 312.7 318 313.4 C321.5 314.1 321.5 312.9 325 316 C328.5 319.1 326.1 315.9 331 325 C335.9 334.1 336.8 338 343.5 350 C350.2 362 348.7 360.7 356 370 C363.3 379.3 361.7 377.7 371 385 C380.3 392.3 381 391.5 391 397.5 C401 403.5 401.8 402.8 408.5 407.5 C415.2 412.2 414 413 416 415" stroke-width="1.1" fill="none"/>
<path d="M416 416.5 C415.2 418.2 419 417.8 413 423 C407 428.2 404.7 428.5 393.5 436 C382.3 443.5 379.7 443 371 451 C362.3 459 365 459.6 361 466 C357 472.4 358.5 472.9 356 475 C353.5 477.1 353.9 476.4 351.5 474 C349.1 471.6 348.2 468.1 347 466" stroke-width="1.7" fill="none"/>
<ellipse cx="254.5" cy="392" rx="2.2" ry="1.2" transform="rotate(25 254.5 392)" stroke-width="0.9" fill="none"/>
<ellipse cx="349" cy="465.5" rx="1.8" ry="2.4" transform="rotate(0 349 465.5)" stroke-width="0.9" fill="none"/>
<circle cx="405" cy="423.5" r="1.2" fill="#231f20" stroke="none"/>
<path d="M280.5 300 L306 336.5" stroke-width="1.1"/>
<path d="M306 336.5 L311 341.5" stroke-width="1.1" stroke-dasharray="6 3"/>
<path d="M311 341.5 L331 330.5" stroke-width="1.1" stroke-dasharray="7 3"/>
<path d="M331 330.5 L361 313.8 L371.5 330" stroke-width="1.1" fill="none"/>
<ellipse cx="375.8" cy="334.3" rx="1.9" ry="3.2" transform="rotate(35 375.8 334.3)" stroke-width="1.0" fill="#fff"/>
<path d="M370.8 333.7 L374.5 336.3" stroke-width="1.0" fill="none"/>
<path d="M373.5 329.7 L377.2 332.3" stroke-width="1.0" fill="none"/>
<ellipse cx="372.2" cy="331.7" rx="1.4" ry="2.4" transform="rotate(35 372.2 331.7)" stroke-width="1.6" fill="#fff"/>
<ellipse cx="375.8" cy="334.3" rx="1.9" ry="3.2" transform="rotate(35 375.8 334.3)" stroke-width="1.0" fill="none"/>
<path d="M397 307.5 L378.5 330" stroke-width="1.1"/>
<path d="M247.5 246 L264 271" stroke-width="1.1"/>
<path d="M264.1 275.1 L268.6 281.7 L270.4 280.5 L265.9 273.9" stroke-width="0.9" fill="#fff"/>
<ellipse cx="265" cy="274.5" rx="1.7" ry="2.4" transform="rotate(56 265 274.5)" stroke-width="1.3" fill="#fff"/>
<path d="M270 283 L276 292.5" stroke-width="1.1"/>
<ellipse cx="279" cy="297" rx="6.2" ry="4.2" transform="rotate(-25 279 297)" stroke-width="1.1" fill="#fff"/>
<circle cx="279" cy="297" r="0.9" fill="#231f20" stroke="none"/>
<path d="M296 260 L285 291" stroke-width="1.1"/>
<path d="M213 387 L240 398.5" stroke-width="1.1"/>
<ellipse cx="242" cy="400.5" rx="3" ry="4.2" transform="rotate(-30 242 400.5)" stroke-width="1.0" fill="#fff"/>
<ellipse cx="242" cy="400.5" rx="1.4" ry="1.9" transform="rotate(-30 242 400.5)" stroke-width="1.6" fill="none"/>
<path d="M191 408 L221 410.5" stroke-width="1.1"/>
<path d="M224.1 412.5 L230.1 409 L229 407 L222.9 410.5" stroke-width="0.9" fill="#fff"/>
<ellipse cx="223.5" cy="411.5" rx="1.8" ry="2.6" transform="rotate(-30 223.5 411.5)" stroke-width="1.3" fill="#fff"/>
<path d="M230 408 L239 402.5" stroke-width="1.1"/>
<path d="M245 398.5 L253.5 393.5" stroke-width="1.1"/>
<path d="M305 457.5 L333 472" stroke-width="1.1"/>
<ellipse cx="335.5" cy="474" rx="3" ry="4.2" transform="rotate(-30 335.5 474)" stroke-width="1.0" fill="#fff"/>
<ellipse cx="335.5" cy="474" rx="1.4" ry="1.9" transform="rotate(-30 335.5 474)" stroke-width="1.6" fill="none"/>
<path d="M286 481 L317 483" stroke-width="1.1"/>
<path d="M319.6 485.5 L325.6 482 L324.5 480 L318.4 483.5" stroke-width="0.9" fill="#fff"/>
<ellipse cx="319" cy="484.5" rx="1.8" ry="2.6" transform="rotate(-30 319 484.5)" stroke-width="1.3" fill="#fff"/>
<path d="M325.5 481 L333 476.5" stroke-width="1.1"/>
<path d="M338 472 L347 467" stroke-width="1.1"/>
<path d="M392 453 L393.5 479" stroke-width="1.1"/>
<path d="M394.7 450.5 L393 452.9 L390.2 452.4 L389.3 449.5 L391 447.1 L393.8 447.6 Z" stroke-width="1.0" fill="#fff"/>
<ellipse cx="392" cy="450" rx="1.6" ry="1.9" transform="rotate(-30 392 450)" stroke-width="1.5" fill="none"/>
<path d="M392 432.5 L392 436 L400 444 L395 447.5" stroke-width="1.1" fill="none"/>
<path d="M392 432.5 L404.5 425" stroke-width="1.1" stroke-dasharray="5 3"/>
<path d="M415 379 L393.5 405" stroke-width="1.1"/>
<path d="M417 414.5 L433.5 437.5" stroke-width="1.1"/>
<path d="M433 437 C434.3 436.3 434.5 434.5 438 434.5 C441.5 434.5 443.1 434.7 446 437 C448.9 439.3 449 439.7 449 443 C449 446.3 448.4 447.4 446 449.5 C443.6 451.6 442.7 451.7 440 451 C437.3 450.3 437.9 450.7 436 447 C434.1 443.3 433.8 439.7 433 437" stroke-width="1.2" fill="none"/>
<path d="M434 436.5 C435.1 438.2 436.1 439.3 438 443 C439.9 446.7 440.2 448.5 441 450.5" stroke-width="2.4" fill="none"/>
<circle cx="435.2" cy="438.2" r="1.6" stroke-width="1.3" fill="none"/>
<path d="M436 436 L456 424" stroke-width="1.1"/>
<circle cx="458.6" cy="422.2" r="2.6" stroke-width="0.9" fill="none"/>
<path d="M461 425 L478.5 441" stroke-width="1.1"/>
<path d="M446 450 L451.5 471" stroke-width="1.1"/>
<path d="M376 451 L376 546 L474 497 L474 812 L539.8 779.8 L539.8 1035" stroke-width="1.1" fill="none"/>
<path d="M440.5 257 L456.5 280.5" stroke-width="1.1"/>
<path d="M456.9 284 L464.7 288.5 L465.9 286.5 L458.1 282" stroke-width="0.9" fill="#fff"/>
<ellipse cx="457.5" cy="283" rx="1.7" ry="2.4" transform="rotate(30 457.5 283)" stroke-width="1.3" fill="#fff"/>
<path d="M467 289.5 L493.5 305" stroke-width="1.1"/>
<ellipse cx="498" cy="307" rx="4.2" ry="6.8" transform="rotate(25 498 307)" stroke-width="1.1" fill="#fff"/>
<circle cx="498.5" cy="307" r="0.9" fill="#231f20" stroke="none"/>
<path d="M513.5 266 L500 305" stroke-width="1.1"/>
<path d="M502 310 L526 324" stroke-width="1.1"/>
<path d="M526 324 L548 335.5" stroke-width="1.1" stroke-dasharray="7 3"/>
<path d="M548 335.5 L548 378" stroke-width="1.1" stroke-dasharray="7 3"/>
<path d="M548 378 L548 512 L157 734 L237.5 782.3" stroke-width="1.1" fill="none"/>
<path d="M519.8 350 C520.3 343.3 519.8 334.7 521.5 325 C523.2 315.3 520.8 319.7 526 313.8 C531.2 307.9 534.1 306.5 541 303 C547.9 299.5 546 300.6 552 300.5 C558 300.4 560.4 302 563.5 302.5" stroke-width="1.1" fill="none"/>
<path d="M563.5 302.5 L612 330" stroke-width="1.1"/>
<path d="M612 330 C623.3 335.3 637.8 341.3 654.5 350 C671.2 358.7 666.5 356.9 674.5 362.5 C682.5 368.1 678.5 363.7 684.5 371 C690.5 378.3 687 376.7 697 390 C707 403.3 715.3 412.7 722 421" stroke-width="1.1" fill="none"/>
<path d="M519.8 350 L613 432" stroke-width="1.1"/>
<path d="M613 432.5 C613.1 429.2 613.1 425.3 613.5 420 C613.9 414.7 612.9 416.2 614.5 412.5 C616.1 408.8 616.2 407.5 619.5 406 C622.8 404.5 622.7 404.6 627 407 C631.3 409.4 632.1 409.5 635.8 415 C639.5 420.5 639.5 420.8 640.8 427.5 C642.1 434.2 640.8 432.9 640.5 440 C640.2 447.1 639.8 450.3 639.5 454" stroke-width="1.1" fill="none"/>
<path d="M639.5 454 L683 497" stroke-width="1.1"/>
<path d="M684.5 370 L759.5 325" stroke-width="1.1"/>
<path d="M759.5 325 C763.5 323.5 765.8 321.2 774.5 319.5 C783.2 317.8 783.3 317.9 792 318.7 C800.7 319.5 799.7 320.2 807 322.5 C814.3 324.8 810.2 322.2 819.5 327.5 C828.8 332.8 830.7 333.8 842 342.5 C853.3 351.2 854 351.3 862 360 C870 368.7 868.8 369.9 872 375 C875.2 380.1 873.5 377.9 874 379" stroke-width="1.1" fill="none"/>
<path d="M874 379 C873.6 380.9 873.6 382.5 872.5 386 C871.4 389.5 871.7 389.2 870 392 C868.3 394.8 868.1 395.8 866 396.5 C863.9 397.2 864.1 396.2 862 394.5 C859.9 392.8 859.7 392.4 858 390 C856.3 387.6 856.2 386.7 855.5 385.5" stroke-width="1.1" fill="none"/>
<path d="M874 378.5 C872.7 378.2 872.2 377.1 869 377.5 C865.8 377.9 863.9 379.3 862 380" stroke-width="1.1" fill="none"/>
<path d="M862 380 L836 396" stroke-width="1.1"/>
<path d="M835.8 396 C821.2 404.5 726.7 459.5 710.8 469 C694.9 478.5 701.7 475.1 699.5 477.5 C697.3 479.9 693.5 487.7 692 490 C690.5 492.3 688 496.7 687 497.5 C686 498.3 683.5 497.1 683 497" stroke-width="1.7" fill="none"/>
<path d="M732.3 448.6 L719.5 456.5" stroke-width="1.1"/>
<path d="M719.5 456.5 L659.5 497.5" stroke-width="1.1" stroke-dasharray="9 4"/>
<path d="M774.5 355.5 C774.8 355.2 775.1 354.2 776 354 C776.9 353.8 772.8 350.3 779 354.5 C785.2 358.7 797.9 369.4 807 375 C816.1 380.6 819.9 379.9 824.5 382.5 C829.1 385.1 827.7 385.3 830 388 C832.3 390.7 834.6 394.4 835.8 396" stroke-width="1.1" fill="none"/>
<path d="M774.5 355.5 C774.7 356.1 769.7 353.6 775.5 358.5 C781.3 363.4 794.7 374.2 803.5 380 C812.3 385.8 815.3 384.9 819.5 387.5 C823.7 390.1 822.3 390.9 824.5 393 C826.7 395.1 829.1 397.2 830.3 398.2" stroke-width="1.1" fill="none"/>
<circle cx="817" cy="400.8" r="1.4" fill="#231f20" stroke="none"/>
<circle cx="845.8" cy="384.5" r="1.4" fill="#231f20" stroke="none"/>
<circle cx="719.5" cy="458" r="1.3" fill="#231f20" stroke="none"/>
<path d="M632 306 L612 329" stroke-width="1.1"/>
<path d="M798 289 L814 314.5" stroke-width="1.1"/>
<ellipse cx="816" cy="318.7" rx="2.8" ry="3.8" transform="rotate(-30 816 318.7)" stroke-width="1.0" fill="#fff"/>
<ellipse cx="816" cy="318.7" rx="1.3" ry="1.7" transform="rotate(-30 816 318.7)" stroke-width="1.6" fill="none"/>
<path d="M807 322.5 L813 320" stroke-width="1.1"/>
<path d="M819.5 316 L824 313.5" stroke-width="1.1"/>
<path d="M831.5 308 L825.4 311.5 L826.5 313.5 L832.5 310" stroke-width="0.9" fill="#fff"/>
<ellipse cx="832" cy="309" rx="1.8" ry="2.6" transform="rotate(150 832 309)" stroke-width="1.3" fill="#fff"/>
<path d="M853 281 L832.5 307" stroke-width="1.1"/>
<path d="M884.5 332.5 L900.5 358.5" stroke-width="1.1"/>
<ellipse cx="902" cy="362.3" rx="2.8" ry="3.8" transform="rotate(-30 902 362.3)" stroke-width="1.0" fill="#fff"/>
<ellipse cx="902" cy="362.3" rx="1.3" ry="1.7" transform="rotate(-30 902 362.3)" stroke-width="1.6" fill="none"/>
<path d="M874.5 378 L899.5 364" stroke-width="1.1"/>
<path d="M905 360.5 L910 357.5" stroke-width="1.1"/>
<path d="M917.5 352.5 L911.4 356 L912.5 358 L918.5 354.5" stroke-width="0.9" fill="#fff"/>
<ellipse cx="918" cy="353.5" rx="1.8" ry="2.6" transform="rotate(150 918 353.5)" stroke-width="1.3" fill="#fff"/>
<path d="M925.5 322 L918.5 345" stroke-width="1.1"/>
<path d="M856 389.5 L849.5 392.5 L849.5 698.5" stroke-width="1.1" fill="none"/>
<path d="M849.5 719.8 L849.5 873.5 L766 923.8" stroke-width="1.1" fill="none"/>
<path d="M733 449 L747 471" stroke-width="1.1"/>
<path d="M746.5 470.5 C747.8 469.8 748 468 751.5 468 C755 468 756.6 468.2 759.5 470.5 C762.4 472.8 762.5 473.2 762.5 476.5 C762.5 479.8 761.9 480.9 759.5 483 C757.1 485.1 756.2 485.2 753.5 484.5 C750.8 483.8 751.4 484.2 749.5 480.5 C747.6 476.8 747.3 473.2 746.5 470.5" stroke-width="1.2" fill="none"/>
<path d="M747.5 470 C748.6 471.7 749.6 472.8 751.5 476.5 C753.4 480.2 753.7 482 754.5 484" stroke-width="2.4" fill="none"/>
<circle cx="748.8" cy="471.6" r="1.6" stroke-width="1.3" fill="none"/>
<path d="M749.5 469.5 L770 458.5" stroke-width="1.1"/>
<circle cx="772.8" cy="456.8" r="2.6" stroke-width="0.9" fill="none"/>
<path d="M774.5 459 L789.5 480" stroke-width="1.1"/>
<path d="M748 481 L731.5 505.5" stroke-width="1.1"/>
<path d="M658.5 500.5 L656.8 502.9 L654 502.4 L653.1 499.5 L654.8 497.1 L657.6 497.6 Z" stroke-width="1.0" fill="#fff"/>
<ellipse cx="655.8" cy="500" rx="1.6" ry="1.9" transform="rotate(-30 655.8 500)" stroke-width="1.5" fill="none"/>
<path d="M654 504 L644 526" stroke-width="1.1"/>
<path d="M220 649 L291.3 766" stroke-width="1.1"/>
<path d="M251 748.5 L283.5 769.5" stroke-width="1.1"/>
<ellipse cx="244.7" cy="785.2" rx="2" ry="3.4" transform="rotate(30 244.7 785.2)" stroke-width="1.0" fill="#fff"/>
<path d="M239.1 785 L243.4 787.5" stroke-width="1.0" fill="none"/>
<path d="M241.6 780.5 L245.9 783" stroke-width="1.0" fill="none"/>
<ellipse cx="240.3" cy="782.8" rx="1.5" ry="2.6" transform="rotate(30 240.3 782.8)" stroke-width="1.6" fill="#fff"/>
<ellipse cx="244.7" cy="785.2" rx="2" ry="3.4" transform="rotate(30 244.7 785.2)" stroke-width="1.0" fill="none"/>
<path d="M247.5 787 L261 794.8" stroke-width="1.1"/>
<path d="M226 797 L239.5 787" stroke-width="1.1"/>
<path d="M280 780 C280.8 777.9 281.4 775.3 283 772 C284.6 768.7 284.1 769.4 286 767.5 C287.9 765.6 287.4 765 290 765 C292.6 765 293.6 765.7 295.8 767.5 C298 769.3 298.1 769.6 298.3 771.7 C298.5 773.8 297.8 775.2 296.7 775.5 C295.6 775.8 295.4 773.9 294 773 C292.6 772.1 292.8 771.5 291.5 772 C290.2 772.5 290.1 772.9 289 775 C287.9 777.1 287.9 778.7 287.5 780" stroke-width="1.1" fill="none"/>
<circle cx="296.2" cy="771.8" r="1.6" stroke-width="1.2" fill="none"/>
<path d="M269.2 789.5 L280 783.5 L295 780 L303.3 789.2 L310.8 790.2" stroke-width="1.1" fill="none"/>
<path d="M310.8 790.2 L296.7 798.5 L283.3 789.5" stroke-width="1.5" fill="none"/>
<path d="M269.2 789.5 L267.5 816.7 L283.3 835.8 L296.7 840 L298.3 843.5 L310 835.8 L307.5 831.7 L295.8 830 L283.3 810 L283.3 789.5" stroke-width="1.1" fill="none"/>
<path d="M261.7 795.5 L261.7 802.5 L267.5 800 L267.5 792.5 Z" stroke-width="1.1" fill="none"/>
<ellipse cx="264.6" cy="797.5" rx="1.2" ry="1.8" transform="rotate(0 264.6 797.5)" stroke-width="0.8" fill="none"/>
<path d="M283.3 797 C283.5 798.6 283 800.6 284 803 C285 805.4 285.1 805.6 287 806 C288.9 806.4 289 804.5 291 804.5 C293 804.5 292.9 804.5 294.5 806 C296.1 807.5 296.9 807.7 297 810 C297.1 812.3 296.3 813.7 295 814.5 C293.7 815.3 293.9 813 292 813 C290.1 813 289.7 813.4 288 814.5 C286.3 815.6 286.2 816.3 285.5 817" stroke-width="1.1" fill="none"/>
<circle cx="295.5" cy="810.5" r="1.4" stroke-width="1.1" fill="none"/>
<circle cx="279.5" cy="806" r="0.8" fill="#231f20" stroke="none"/>
<path d="M298.3 770 L314.2 761.3 L449 838.5 L456 834.2" stroke-width="1.1" fill="none"/>
<path d="M182.5 849.4 C182.2 846 183.2 842.9 184.5 840.6 C185.8 838.3 188.1 836.7 190.4 835.7 C192.7 834.7 195.9 834.5 198.2 834.7 C200.5 834.9 195.5 833 204.1 836.7 C212.7 840.4 234.6 850 250 856.7 C265.4 863.4 286.6 872.6 296.3 876.9 C306 881.2 303.8 879.4 308 882.7 C312.2 886 317.6 891.3 321.8 896.5 C326.1 901.7 330.2 907.9 333.5 914.1 C336.8 920.3 339.8 927.2 341.4 933.7 C343 940.2 343.6 947.7 343.3 953.3 C343 958.9 341.7 963.2 339.4 967.1 C337.1 971 333.5 974.8 329.6 976.9 C325.7 979 320.5 979.8 315.9 979.8 C311.3 979.8 307.1 979.3 302.2 976.9 C297.3 974.5 291.4 970 286.5 965.1 C281.6 960.2 277.3 954 272.7 947.5 C268.1 941 263.2 932.4 259 925.9 C254.8 919.4 251.2 912.8 247.3 908.2 C243.4 903.6 242.1 902.6 235.5 898.4 C228.9 894.1 214.9 887 208 882.7 C201.1 878.5 197.9 876.5 194.3 872.9 C190.7 869.3 188.5 865.1 186.5 861.2 C184.5 857.3 182.8 852.8 182.5 849.4 Z" stroke-width="1.3" fill="none"/>
<path d="M188.4 849.4 C188.1 846.6 188.4 844.2 189.4 842.5 C190.4 840.8 192.2 839.5 194.3 839.2 C196.4 838.9 193.2 837 202.2 840.6 C211.1 844.2 232.7 853.9 248 860.6 C263.4 867.3 284.6 876.3 294.3 880.8 C304 885.3 302.2 884.3 306.1 887.6 C310 890.9 314.1 895.5 317.8 900.4 C321.6 905.3 325.7 911.4 328.6 917.1 C331.6 922.8 334 928.7 335.5 934.7 C337 940.7 337.7 948.2 337.5 953.3 C337.3 958.4 336.5 961.8 334.5 965.1 C332.5 968.4 329 971.3 325.7 972.9 C322.4 974.5 318.7 975 314.9 974.9 C311.1 974.8 307.2 974.3 303.1 972 C299 969.7 294.6 965.6 290.4 961.2 C286.1 956.8 281.9 951.5 277.6 945.5 C273.4 939.5 269 931.4 264.9 924.9 C260.8 918.4 257.2 911.2 253.1 906.3 C249 901.4 247.2 900.1 240.4 895.5 C233.6 890.9 218.9 883 212 878.8 C205.1 874.5 202.6 873.3 199.2 870 C195.8 866.7 193.2 862.6 191.4 859.2 C189.6 855.8 188.7 852.2 188.4 849.4 Z" stroke-width="1.1" fill="none"/>
<path d="M197 836.6 C198.1 836.9 194.8 834.6 203.5 838.2 C212.2 841.8 233.7 851.5 249 858.2 C264.3 864.9 285.8 874.1 295.5 878.6 C305.2 883.1 302.9 881.7 307 885 C311.1 888.3 316 893.2 320 898.3 C324 903.4 328.1 909.5 331.2 915.5 C334.3 921.5 336.9 928 338.5 934.2 C340.1 940.5 340.2 949.9 340.5 953" stroke-width="1.2" fill="none"/>
<path d="M196 875.6 C198.3 877.2 203.2 880.9 210 885 C216.8 889.1 230.5 895.8 237 900 C243.5 904.2 245 905.4 249 910 C253 914.6 256.7 921 261 927.5 C265.3 934 270.4 942.6 275 949 C279.6 955.4 286.2 963.2 288.5 966" stroke-width="0.8" fill="none"/>
<path d="M163.3 810 L196.7 832.5" stroke-width="1.1"/>
<ellipse cx="163.2" cy="878.4" rx="13.6" ry="24.6" transform="rotate(-30 163.2 878.4)" stroke-width="1.2" fill="#fff"/>
<ellipse cx="158.6" cy="879.8" rx="13.6" ry="24.6" transform="rotate(-30 158.6 879.8)" stroke-width="1.2" fill="#fff"/>
<ellipse cx="159.5" cy="879.6" rx="11.8" ry="21.8" transform="rotate(-30 159.5 879.6)" stroke-width="0.9" fill="none"/>
<ellipse cx="160.1" cy="880.6" rx="8" ry="15.6" transform="rotate(-30 160.1 880.6)" stroke-width="1.1" fill="none"/>
<ellipse cx="160" cy="880.7" rx="3.9" ry="7.2" transform="rotate(-30 160 880.7)" stroke-width="1.1" fill="none"/>
<ellipse cx="159.8" cy="880.8" rx="2" ry="3.6" transform="rotate(-30 159.8 880.8)" stroke-width="1.6" fill="none"/>
<path d="M132.5 895 L156.5 881.8" stroke-width="1.1"/>
<path d="M176.5 870.5 L202.5 855.8" stroke-width="1.1"/>
<path d="M174.2 898.3 L192.5 919.2" stroke-width="1.1"/>
<path d="M120.8 899.2 L132 893.6 L132.8 895.4 L121.6 901 Z" stroke-width="0.9" fill="#555"/>
<path d="M126.7 901.7 L146.7 933.3" stroke-width="1.1"/>
<path d="M392 718.5 L425.5 743.5" stroke-width="1.1"/>
<path d="M425.2 744.2 L425.6 746.8 L427 748.5 L429.2 748.5 L430.8 746.8 L431 744.2 L429.5 742.8 L426.8 742.8 Z" stroke-width="1.0" fill="#fff"/>
<path d="M426.3 748.6 L426.3 760.5 L430 760.5 L430 748.6" stroke-width="1.0" fill="none"/>
<path d="M428 761 L428 853.5 L451 866" stroke-width="0.9" fill="none"/>
<path d="M557 649.8 L543.8 672" stroke-width="1.1"/>
<path d="M539.8 672.3 L548.8 673.4" stroke-width="1.3"/>
<path d="M501 674.8 L496.8 700.5" stroke-width="1.1"/>
<path d="M494.1 704.5 L498 702.2 L497 700.5 L493.1 702.7" stroke-width="0.9" fill="#fff"/>
<ellipse cx="493.6" cy="703.6" rx="1.4" ry="2" transform="rotate(-30 493.6 703.6)" stroke-width="1.3" fill="#fff"/>
<path d="M498 701.5 L515 691.8" stroke-width="1.1"/>
<path d="M515 688 L519 685.2 L525 686.2 L525 692.2 L521 694.8 L515 693.8 Z" stroke-width="1.0" fill="#fff"/>
<path d="M515 688 L521 689 L525 686.2" stroke-width="0.9" fill="none"/>
<path d="M521 689 L521 694.8" stroke-width="0.9"/>
<ellipse cx="519.8" cy="687" rx="1.4" ry="0.9" transform="rotate(0 519.8 687)" stroke-width="0.8" fill="none"/>
<path d="M526 684.8 L539.8 677" stroke-width="1.1"/>
<path d="M524.8 690.5 L612 694.8 L762 702.3" stroke-width="1.7" fill="none"/>
<path d="M764.5 703 L806 704.2" stroke-width="1.0" fill="none"/>
<circle cx="762.8" cy="702.5" r="1.7" stroke-width="1.0" fill="#fff"/>
<path d="M729 701.5 L719.5 725.5" stroke-width="1.1"/>
<path d="M516 694.8 L517.6 889" stroke-width="0.9"/>
<path d="M518.6 694.8 L519.6 886" stroke-width="0.9"/>
<path d="M812 703 C811.5 702.7 810.9 701.9 810 702 C809.1 702.1 808.8 702.4 808.5 703.5 C808.2 704.6 808.1 705.2 809 706 C809.9 706.8 808.3 706.6 812 706.5 C815.7 706.4 820.1 706 823 705.8" stroke-width="1.0" fill="none"/>
<rect x="823" y="702.6" width="11.8" height="6.4" rx="1.5" fill="#231f20" stroke="none" transform="rotate(4 829 706)"/>
<path d="M834.6 707.3 L862 709.8 L862.6 706.2 L860.5 705.6" stroke-width="1.0" fill="none"/>
<path d="M874.5 694.8 L862.8 707.3" stroke-width="1.1"/>
<path d="M893.8 886.6 L896.5 884.6 L899.7 883.3 L903.2 882.8 L907.1 883 L911.1 884 L915.3 885.7 L919.6 888.1 L923.9 891.2 L928.1 894.8 L932.1 899.1 L936 903.7 L939.5 908.8 L942.7 914.2 L945.5 919.7 L947.9 925.4 L949.7 931 L951.1 936.6 L951.8 942 L952 947 L951.7 951.7 L950.7 955.9 L949.3 959.6 L947.3 962.7 L944.8 965.1" stroke-width="1.4" fill="none"/>
<path d="M891.5 887.6 L894.2 885.6 L897.4 884.3 L900.9 883.8 L904.8 884 L908.8 885 L913 886.7 L917.3 889.1 L921.6 892.2 L925.8 895.8 L929.8 900.1 L933.7 904.7 L937.2 909.8 L940.4 915.2 L943.2 920.7 L945.6 926.4 L947.4 932 L948.8 937.6 L949.5 943 L949.7 948 L949.4 952.7 L948.4 956.9 L947 960.6 L945 963.7 L942.5 966.1" stroke-width="1.2" fill="none"/>
<path d="M889.2 888.5 L891.9 886.5 L895.1 885.2 L898.6 884.7 L902.5 884.9 L906.5 885.9 L910.7 887.6 L915 890 L919.3 893.1 L923.5 896.7 L927.5 901 L931.4 905.6 L934.9 910.7 L938.1 916.1 L940.9 921.6 L943.3 927.3 L945.1 932.9 L946.5 938.5 L947.2 943.9 L947.4 948.9 L947.1 953.6 L946.1 957.8 L944.7 961.5 L942.7 964.6 L940.2 967" stroke-width="1.2" fill="none"/>
<path d="M886.9 889.5 L889.6 887.5 L892.8 886.2 L896.3 885.7 L900.2 885.9 L904.2 886.9 L908.4 888.6 L912.7 891 L917 894.1 L921.2 897.7 L925.2 902 L929.1 906.6 L932.6 911.7 L935.8 917.1 L938.6 922.6 L941 928.3 L942.8 933.9 L944.2 939.5 L944.9 944.9 L945.1 949.9 L944.8 954.6 L943.8 958.8 L942.4 962.5 L940.4 965.6 L937.9 968" stroke-width="1.2" fill="none"/>
<path d="M884.6 890.4 L887.3 888.4 L890.5 887.1 L894 886.6 L897.9 886.8 L901.9 887.8 L906.1 889.5 L910.4 891.9 L914.7 895 L918.9 898.6 L922.9 902.9 L926.8 907.5 L930.3 912.6 L933.5 918 L936.3 923.5 L938.7 929.2 L940.5 934.8 L941.9 940.4 L942.6 945.8 L942.8 950.8 L942.5 955.5 L941.5 959.7 L940.1 963.4 L938.1 966.5 L935.6 968.9" stroke-width="1.2" fill="none"/>
<ellipse cx="907.3" cy="930.6" rx="25.5" ry="47" transform="rotate(-30 907.3 930.6)" stroke-width="1.3" fill="#fff"/>
<path d="M886.5 889.5 L896 884" stroke-width="1.1"/>
<path d="M930 973 L943 966.5" stroke-width="1.1"/>
<ellipse cx="905.5" cy="931.7" rx="12.5" ry="20" transform="rotate(-30 905.5 931.7)" stroke-width="1.2" fill="none"/>
<ellipse cx="902.9" cy="933" rx="4" ry="7" transform="rotate(-30 902.9 933)" stroke-width="1.7" fill="none"/>
<ellipse cx="902.9" cy="933" rx="2" ry="3.6" transform="rotate(-30 902.9 933)" stroke-width="1.4" fill="none"/>
<circle cx="907.1" cy="921.2" r="1.8" fill="#231f20" stroke="none"/>
<path d="M905.3 939.3 L916.3 933.1" stroke-width="0.9" fill="none"/>
<path d="M906.1 922.8 L903.9 926.6" stroke-width="1.2" fill="none"/>
<path d="M878.5 949 L897.5 938" stroke-width="1.1"/>
<path d="M937.5 859.5 L917.5 885" stroke-width="1.1"/>
<ellipse cx="963.8" cy="898" rx="4.3" ry="7.6" transform="rotate(-30 963.8 898)" stroke-width="1.0" fill="#fff"/>
<path d="M955.5 894.4 L961 891.4" stroke-width="1.0" fill="none"/>
<path d="M961.1 907.6 L966.6 904.6" stroke-width="1.0" fill="none"/>
<ellipse cx="958.3" cy="901" rx="4.3" ry="7.6" transform="rotate(-30 958.3 901)" stroke-width="1.1" fill="#fff"/>
<ellipse cx="958.3" cy="901" rx="2.6" ry="4.6" transform="rotate(-30 958.3 901)" stroke-width="1.5" fill="none"/>
<path d="M963 872.3 L959.3 892.3" stroke-width="1.1"/>
<path d="M944.5 910 L952.5 905.2" stroke-width="1.1"/>
<path d="M966.8 895 L980.5 887.3" stroke-width="1.1"/>
<path d="M983.6 880.5 L981.6 891.8" stroke-width="1.6"/>
<path d="M1006 853.5 L984.3 880.5" stroke-width="1.1"/>
<ellipse cx="875.7" cy="948.2" rx="4.6" ry="8.4" transform="rotate(-30 875.7 948.2)" stroke-width="1.0" fill="#fff"/>
<path d="M866.2 944.4 L872.7 940.9" stroke-width="1.0" fill="none"/>
<path d="M872.2 959 L878.7 955.5" stroke-width="1.0" fill="none"/>
<ellipse cx="869.2" cy="951.7" rx="4.6" ry="8.4" transform="rotate(-30 869.2 951.7)" stroke-width="1.1" fill="#fff"/>
<ellipse cx="869.2" cy="951.7" rx="2.8" ry="5.2" transform="rotate(-30 869.2 951.7)" stroke-width="1.5" fill="none"/>
<path d="M856.7 915.8 L869.2 944.2" stroke-width="1.1"/>
<path d="M851.5 957.3 L852.5 958.1 L853.4 959.1 L854.3 960.3 L855 961.6 L855.6 963 L856 964.4 L856.3 965.8 L856.3 967.1 L856.2 968.2 L855.9 969.2 L855.3 969.9 L854.7 970.3 L853.9 970.4 L853 970.2 L852 969.8 L851.1 969 L850.1 968.1 L849.3 966.9 L848.5 965.6 L847.9 964.2 L847.4 962.8 L847.1 961.4 L847 960.1 L847.2 958.9" stroke-width="1.8" fill="none"/>
<path d="M855.8 960 L862.5 956.3" stroke-width="1.1"/>
<path d="M873.3 985 L855.8 970.8" stroke-width="1.1"/>
<path d="M803.3 986.2 L838 966 L841.2 971.6 L806.7 992.2" stroke-width="1.0" fill="none"/>
<ellipse cx="805" cy="989.2" rx="1.9" ry="3.5" transform="rotate(-30 805 989.2)" stroke-width="1.0" fill="#fff"/>
<path d="M838 966 C838.7 966.3 839.8 966.1 840.8 967 C841.8 967.9 841.7 968.3 841.8 969.5 C841.9 970.7 841.4 971 841.2 971.6" stroke-width="1.0" fill="none"/>
<path d="M814.5 979.8 L817.8 985.6" stroke-width="0.8"/>
<path d="M842 968.3 L848 965" stroke-width="1.1"/>
<path d="M827.5 1002.5 L814.2 990.8" stroke-width="1.1"/>
<path d="M826.8 903.4 L826 906.4 L823.1 905.5 L820.9 901.6 L821.7 898.7 L824.6 899.6 Z" stroke-width="1.1" fill="#fff"/>
<path d="M824.4 904.8 L823.6 907.7 L820.7 906.8 L818.6 903 L819.3 900 L822.2 900.9 Z" stroke-width="1.1" fill="#fff"/>
<ellipse cx="820.2" cy="904.6" rx="2.9" ry="5" transform="rotate(-29.517518285951404 820.2 904.6)" stroke-width="1.1" fill="#fff"/>
<path d="M807.7 914.2 L821.3 906.5" stroke-width="1.1" fill="none"/>
<path d="M805.5 910.4 L819.1 902.7" stroke-width="1.1" fill="none"/>
<ellipse cx="819.9" cy="904.7" rx="1.3" ry="2.2" transform="rotate(-29.517518285951404 819.9 904.7)" stroke-width="0.01" fill="#fff"/>
<path d="M821.3 906.5 L821.1 906.6 L820.9 906.6 L820.8 906.6 L820.6 906.6 L820.4 906.5 L820.2 906.4 L819.9 906.3 L819.7 906.1 L819.6 905.9 L819.4 905.7 L819.2 905.5 L819.1 905.3 L818.9 905 L818.8 904.7 L818.7 904.5 L818.7 904.2 L818.6 904 L818.6 903.7 L818.6 903.5 L818.7 903.3 L818.8 903.1 L818.9 902.9 L819 902.8 L819.1 902.7" stroke-width="1.0" fill="none"/>
<ellipse cx="806.6" cy="912.3" rx="1.3" ry="2.2" transform="rotate(-29.517518285951404 806.6 912.3)" stroke-width="1.1" fill="#fff"/>
<ellipse cx="806.6" cy="912.3" rx="0.7" ry="1.2" transform="rotate(-29.517518285951404 806.6 912.3)" stroke-width="0.9" fill="none"/>
<path d="M812.5 913.5 L821.7 928.5" stroke-width="1.1"/>
<path d="M805.2 913.4 L754.7 942.5" stroke-width="1.1"/>
</svg></body></html>
